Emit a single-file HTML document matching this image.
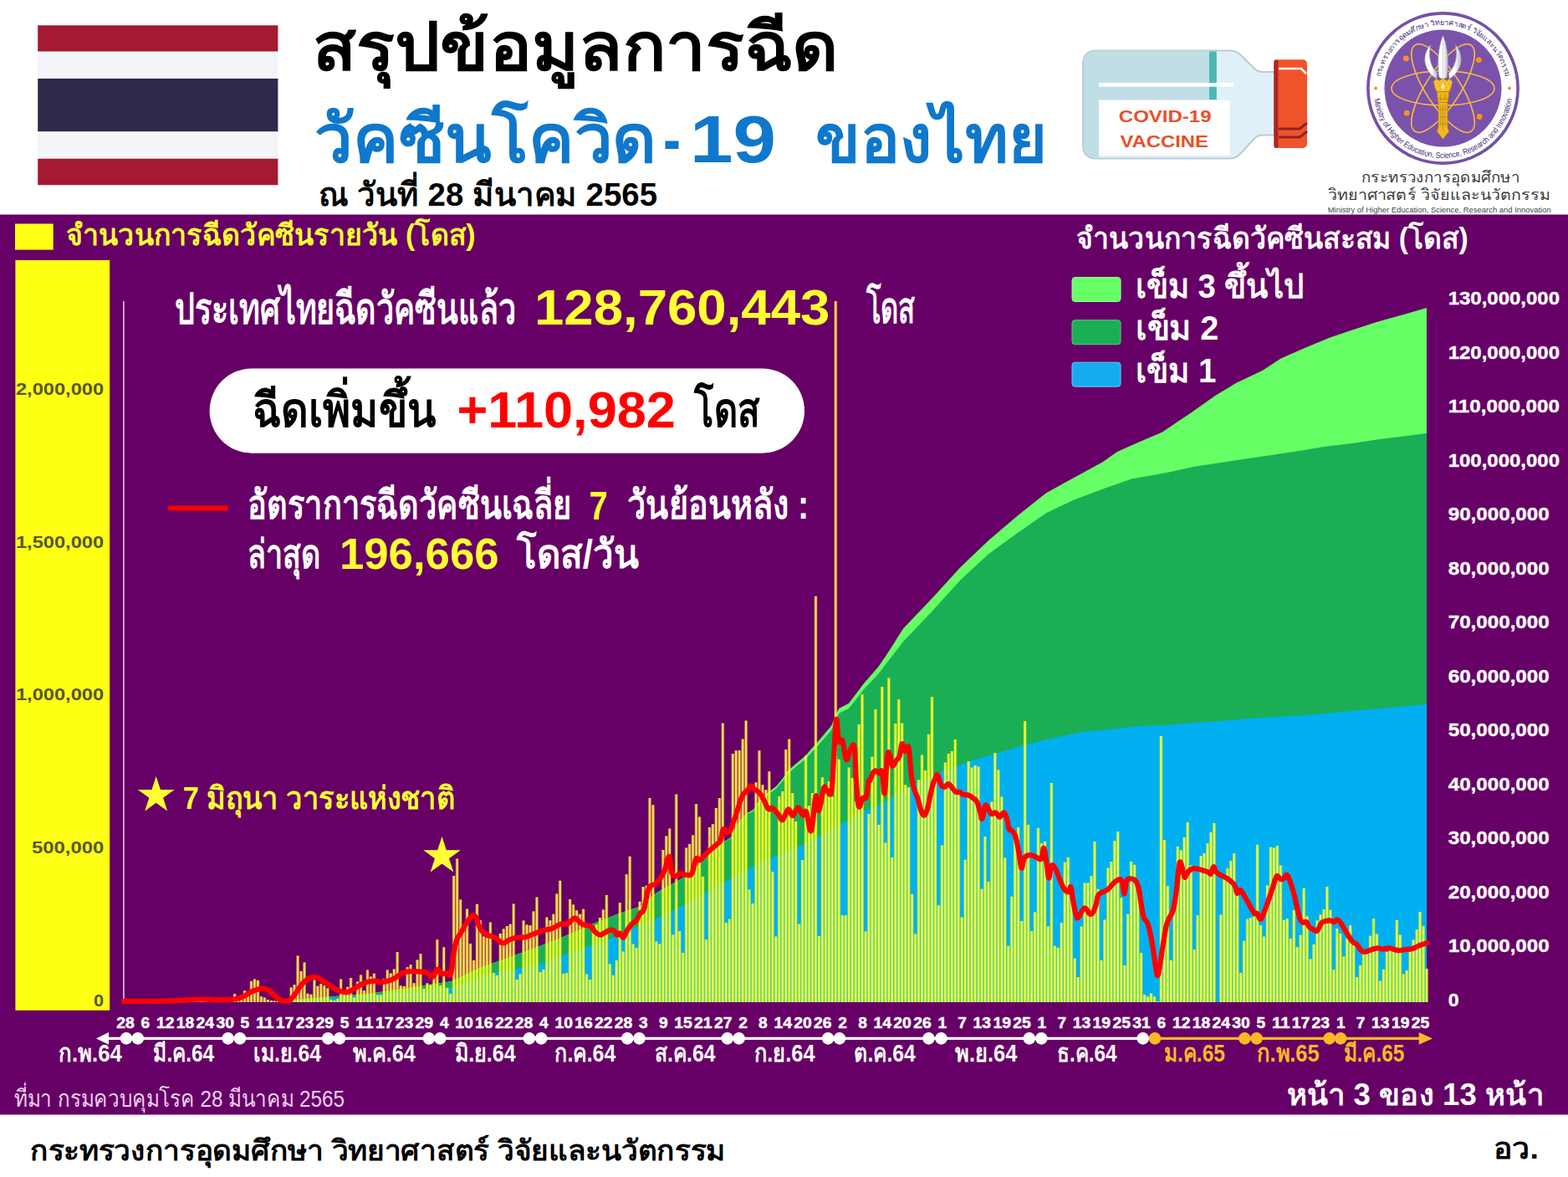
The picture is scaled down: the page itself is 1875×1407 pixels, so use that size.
<!DOCTYPE html>
<html lang="th"><head><meta charset="utf-8"><title>สรุปข้อมูลการฉีดวัคซีนโควิด-19 ของไทย</title>
<style>
html,body{margin:0;padding:0;background:#fff;}
body{width:1875px;height:1407px;overflow:hidden;position:relative;font-family:"Liberation Sans",sans-serif;}
svg{position:absolute;left:0;top:0;display:block}
.t{position:absolute;left:0;top:0;width:1875px;height:1407px;overflow:hidden;color:transparent;}
.t span{position:absolute;white-space:nowrap;line-height:1;overflow:hidden;color:transparent}
</style></head><body>
<svg width="1875" height="1407" viewBox="0 0 1875 1407" font-family="Liberation Sans, sans-serif">
<rect width="1875" height="1407" fill="#fff"/>
<rect x="0" y="256.5" width="1875" height="1076.0" fill="#660066"/>
<rect x="45.2" y="30.3" width="287.2" height="31.4" fill="#A51931"/>
<rect x="45.2" y="61.7" width="287.2" height="32.2" fill="#F4F5F8"/>
<rect x="45.2" y="93.9" width="287.2" height="63.5" fill="#2D2A4A"/>
<rect x="45.2" y="157.4" width="287.2" height="32.3" fill="#F4F5F8"/>
<rect x="45.2" y="189.7" width="287.2" height="31.5" fill="#A51931"/>
<text x="373.6" y="84.4" font-size="80" font-weight="bold" fill="#000" textLength="629" lengthAdjust="spacingAndGlyphs">สรุปข้อมูลการฉีด</text>
<text x="376.4" y="194.4" font-size="80" font-weight="bold" fill="#0F78CC" textLength="409" lengthAdjust="spacingAndGlyphs">วัคซีนโควิด</text>
<text x="793" y="194.4" font-size="80" font-weight="bold" fill="#0F78CC" textLength="21" lengthAdjust="spacingAndGlyphs">-</text>
<text x="825" y="194.4" font-size="80" font-weight="bold" fill="#0F78CC" textLength="103" lengthAdjust="spacingAndGlyphs">19</text>
<text x="974.9" y="194.4" font-size="80" font-weight="bold" fill="#0F78CC" textLength="277" lengthAdjust="spacingAndGlyphs">ของไทย</text>
<text x="381" y="246.3" font-size="39" font-weight="bold" fill="#000" textLength="405" lengthAdjust="spacingAndGlyphs">ณ วันที่ 28 มีนาคม 2565</text>
<g>
<path d="M1311 60.5H1470Q1478 60.5 1484 66L1500 82Q1504 86 1510 86H1524V161.5H1510Q1504 161.5 1500 165.5L1484 183Q1478 189.5 1470 189.5H1311Q1295 189.5 1295 173V77Q1295 60.5 1311 60.5Z" fill="#E0F0F9" stroke="#B9CDD6" stroke-width="2"/>
<path d="M1311 61.5H1446V119H1314V188.5H1311Q1296 188.5 1296 173V77Q1296 61.5 1311 61.5Z" fill="#BFDEE6"/>
<rect x="1446" y="61.5" width="8.8" height="57.5" fill="#4DB8B0"/>
<rect x="1314" y="99" width="161" height="4.7" fill="#fff"/>
<rect x="1314" y="120" width="156.6" height="66" fill="#fff"/>
<rect x="1523.4" y="71.3" width="39.6" height="105.7" rx="5" fill="#F0532A"/>
<rect x="1523.4" y="71.3" width="5" height="105.7" rx="2.5" fill="#A8262A"/>
<path d="M1529 82H1556L1562 88" fill="none" stroke="#fff" stroke-width="2.5"/>
<path d="M1529 154H1554L1563 147M1529 164H1554L1563 157" fill="none" stroke="#8E2328" stroke-width="3"/>
<text x="1393.2" y="145.8" font-size="20.2" font-weight="bold" fill="#E8502A" text-anchor="middle" textLength="110.8" lengthAdjust="spacingAndGlyphs">COVID-19</text>
<text x="1392.2" y="176.4" font-size="20.8" font-weight="bold" fill="#E8502A" text-anchor="middle" textLength="105.5" lengthAdjust="spacingAndGlyphs">VACCINE</text>
</g>
<circle cx="1725.5" cy="105.5" r="89.6" fill="#fff" stroke="#7650A8" stroke-width="3.6"/>
<circle cx="1725.5" cy="105.5" r="70" fill="#7B52AB"/>
<ellipse cx="1725.5" cy="105.5" rx="61.5" ry="20.6" fill="none" stroke="#F3B544" stroke-width="1.7" transform="rotate(0 1725.5 105.5)"/>
<ellipse cx="1725.5" cy="105.5" rx="61.5" ry="20.6" fill="none" stroke="#F3B544" stroke-width="1.7" transform="rotate(57 1725.5 105.5)"/>
<ellipse cx="1725.5" cy="105.5" rx="61.5" ry="20.6" fill="none" stroke="#F3B544" stroke-width="1.7" transform="rotate(-57 1725.5 105.5)"/>
<circle cx="1681.5" cy="69.9" r="3.4" fill="#F7931E"/>
<circle cx="1768.3" cy="71.6" r="3.4" fill="#F7931E"/>
<circle cx="1682.3" cy="135.2" r="3.4" fill="#F7931E"/>
<circle cx="1769.2" cy="139.5" r="3.4" fill="#F7931E"/>
<circle cx="1645" cy="105.5" r="2" fill="#E8973A"/>
<circle cx="1805" cy="105.5" r="2" fill="#E8973A"/>
<g stroke-linejoin="round">
<defs><linearGradient id="bl" x1="0" x2="1"><stop offset="0" stop-color="#F7F7FA"/><stop offset="0.5" stop-color="#FFFFFF"/><stop offset="1" stop-color="#B9B9C9"/></linearGradient></defs>
<path d="M1710.7 53.5C1701.5 64 1701 78 1712 90L1717.8 94.5L1719 88C1709.5 78 1708 66 1710.7 53.5Z" fill="url(#bl)" stroke="#8F8FA3" stroke-width="0.7"/>
<path d="M1740.3 53.5C1749.5 64 1750 78 1739 90L1733.2 94.5L1732 88C1741.5 78 1743 66 1740.3 53.5Z" fill="url(#bl)" stroke="#8F8FA3" stroke-width="0.7"/>
<path d="M1725.5 42.2C1719 58 1718.8 76 1720.6 92L1725.5 95.5L1730.4 92C1732.2 76 1732 58 1725.5 42.2Z" fill="url(#bl)" stroke="#8F8FA3" stroke-width="0.7"/>
<path d="M1725.5 47V93" stroke="#C9C9D6" stroke-width="0.8" fill="none"/>
<path d="M1714.2 97.5L1717.5 94L1721 96.5L1725.5 93.5L1730 96.5L1733.5 94L1736.8 97.5L1735.5 104L1733 109.5H1718L1715.500 104Z" fill="#F5C02A" stroke="#B57F0A" stroke-width="0.7"/>
<path d="M1718.3 109.500H1732.700L1731.500 122.500H1719.500Z" fill="#EDB21C" stroke="#B57F0A" stroke-width="0.7"/>
<path d="M1720 122.500H1731V152L1732.800 157.500L1729.500 161L1725.500 166.500L1721.500 161L1718.200 157.500L1720 152Z" fill="#F2B822" stroke="#B57F0A" stroke-width="0.7"/>
<path d="M1725.500 97L1729 104L1725.500 108.500L1722 104Z" fill="#FCE38F" stroke="#C98A0C" stroke-width="0.5"/>
<path d="M1722.700 113V120M1728.300 113V120M1723 125V151M1728 125V151M1725.500 125V156M1719 118H1732M1719.800 131H1731.200M1719.800 140H1731.200M1719.800 148H1731.200" stroke="#B57F0A" stroke-width="0.7" fill="none"/>
</g>
<defs><path id="arcb" d="M1642.0 105.5 A83.5 83.5 0 0 0 1809.0 105.5"/></defs>
<text font-size="9.8" fill="#4B2A7A"><textPath href="#arcb" startOffset="50%" text-anchor="middle" textLength="236" lengthAdjust="spacingAndGlyphs">Ministry of Higher Education, Science, Research and Innovation</textPath></text>
<defs><path id="arct" d="M1650.0 105.5 A75.5 75.5 0 0 1 1801.0 105.5"/></defs>
<text font-size="9" fill="#4B2A7A"><textPath href="#arct" startOffset="50%" text-anchor="middle" textLength="210" lengthAdjust="spacingAndGlyphs">กระทรวงการอุดมศึกษา วิทยาศาสตร์ วิจัยและนวัตกรรม</textPath></text>
<text x="1628" y="217.5" font-size="18" fill="#3C3C3C" textLength="189" lengthAdjust="spacingAndGlyphs">กระทรวงการอุดมศึกษา</text>
<text x="1587.7" y="239.3" font-size="18" fill="#3C3C3C" textLength="266" lengthAdjust="spacingAndGlyphs">วิทยาศาสตร์ วิจัยและนวัตกรรม</text>
<text x="1587.7" y="254" font-size="9.4" fill="#444" textLength="267" lengthAdjust="spacingAndGlyphs">Ministry of Higher Education, Science, Research and Innovation</text>
<rect x="18" y="267.5" width="45.7" height="31.1" fill="#FFFF14"/>
<rect x="18.4" y="311" width="112.8" height="896.8" fill="#FFFF14"/>
<rect x="147.1" y="360" width="1.6" height="837.5" fill="#EDBDED"/>
<polygon fill="#66FF66" points="340.0,1198.0 340.0,1196.0 400.0,1191.0 440.0,1188.0 473.0,1183.0 507.0,1178.0 540.0,1173.0 573.0,1157.0 607.0,1145.0 640.0,1133.0 673.0,1120.0 707.0,1105.0 740.0,1092.0 767.0,1083.0 773.3,1076.3 787.0,1066.0 800.6,1058.4 814.3,1050.7 829.7,1040.5 838.4,1030.7 851.2,1019.6 864.8,1006.8 874.2,1000.8 881.9,984.6 892.2,972.7 901.5,967.5 905.8,959.9 919.5,946.2 928.0,940.2 936.5,930.0 942.0,921.5 963.0,903.5 979.0,885.6 994.0,867.7 1001.0,851.0 1003.5,846.7 1015.0,840.8 1033.0,817.0 1050.0,797.5 1060.0,783.0 1080.0,751.6 1114.1,715.8 1148.3,678.2 1182.4,645.8 1216.5,616.8 1250.7,589.5 1284.8,570.7 1319.0,551.9 1336.0,540.0 1363.0,528.0 1390.0,516.4 1424.1,493.4 1453.1,472.9 1478.8,457.5 1509.5,443.0 1531.7,428.5 1560.7,415.7 1589.7,403.8 1617.0,394.4 1646.0,385.0 1680.2,375.6 1706.0,367.9 1706.0,1198.0"/>
<polygon fill="#1AAF54" points="340.0,1198.0 340.0,1196.0 400.0,1191.0 440.0,1188.0 473.0,1183.0 507.0,1178.0 540.0,1173.0 573.0,1157.0 607.0,1145.0 640.0,1133.0 673.0,1120.0 707.0,1105.0 740.0,1092.0 767.0,1083.6 773.3,1076.9 787.0,1066.6 800.6,1059.0 814.3,1051.3 829.7,1041.1 838.4,1031.3 851.2,1020.2 864.8,1007.4 874.2,1001.6 881.9,985.6 892.2,974.1 901.5,969.3 905.8,961.8 919.5,948.7 928.0,943.0 936.5,933.1 942.0,924.8 963.0,907.6 979.0,890.3 994.0,873.0 1001.0,857.0 1003.5,852.5 1015.0,847.0 1033.0,824.0 1050.0,806.0 1060.0,793.0 1080.0,767.0 1114.1,731.2 1148.3,693.6 1182.4,662.0 1216.5,637.3 1250.7,613.4 1284.8,597.2 1319.0,584.4 1353.1,572.4 1387.2,566.5 1400.0,563.9 1427.0,558.0 1460.0,553.0 1493.0,548.0 1527.0,543.0 1560.0,538.0 1583.0,534.0 1617.0,530.0 1650.0,525.0 1683.0,521.0 1706.0,518.0 1706.0,1198.0"/>
<polygon fill="#00B0F0" points="340.0,1198.0 340.0,1196.5 400.0,1193.0 440.0,1190.0 473.0,1186.0 507.0,1183.0 540.0,1180.0 573.0,1168.0 594.0,1162.0 620.0,1158.0 649.0,1151.0 676.0,1141.0 705.0,1131.0 734.0,1120.0 760.0,1109.0 787.0,1097.0 814.0,1084.0 843.0,1067.0 872.0,1051.6 900.0,1036.0 926.0,1024.0 955.0,1012.0 960.0,1010.0 993.0,992.0 1027.0,973.0 1060.0,957.0 1093.0,937.0 1127.0,922.0 1160.0,910.0 1193.0,900.0 1227.0,890.0 1260.0,882.0 1293.0,875.0 1327.0,872.0 1360.0,868.0 1393.0,867.0 1427.0,864.0 1460.0,862.0 1493.0,859.0 1527.0,857.0 1560.0,855.0 1583.0,853.0 1650.0,847.0 1706.0,842.0 1706.0,1198.0"/>
<clipPath id="ca"><polygon points="340.0,1198.0 340.0,1196.0 400.0,1191.0 440.0,1188.0 473.0,1183.0 507.0,1178.0 540.0,1173.0 573.0,1157.0 607.0,1145.0 640.0,1133.0 673.0,1120.0 707.0,1105.0 740.0,1092.0 767.0,1083.0 773.3,1076.3 787.0,1066.0 800.6,1058.4 814.3,1050.7 829.7,1040.5 838.4,1030.7 851.2,1019.6 864.8,1006.8 874.2,1000.8 881.9,984.6 892.2,972.7 901.5,967.5 905.8,959.9 919.5,946.2 928.0,940.2 936.5,930.0 942.0,921.5 963.0,903.5 979.0,885.6 994.0,867.7 1001.0,851.0 1003.5,846.7 1015.0,840.8 1033.0,817.0 1050.0,797.5 1060.0,783.0 1080.0,751.6 1114.1,715.8 1148.3,678.2 1182.4,645.8 1216.5,616.8 1250.7,589.5 1284.8,570.7 1319.0,551.9 1336.0,540.0 1363.0,528.0 1390.0,516.4 1424.1,493.4 1453.1,472.9 1478.8,457.5 1509.5,443.0 1531.7,428.5 1560.7,415.7 1589.7,403.8 1617.0,394.4 1646.0,385.0 1680.2,375.6 1706.0,367.9 1708.0,367.9 1708.0,1198.0"/></clipPath>
<clipPath id="co"><path clip-rule="evenodd" d="M0 300H1875V1210H0ZM340.0 1198.0L340.0 1196.0L400.0 1191.0L440.0 1188.0L473.0 1183.0L507.0 1178.0L540.0 1173.0L573.0 1157.0L607.0 1145.0L640.0 1133.0L673.0 1120.0L707.0 1105.0L740.0 1092.0L767.0 1083.0L773.3 1076.3L787.0 1066.0L800.6 1058.4L814.3 1050.7L829.7 1040.5L838.4 1030.7L851.2 1019.6L864.8 1006.8L874.2 1000.8L881.9 984.6L892.2 972.7L901.5 967.5L905.8 959.9L919.5 946.2L928.0 940.2L936.5 930.0L942.0 921.5L963.0 903.5L979.0 885.6L994.0 867.7L1001.0 851.0L1003.5 846.7L1015.0 840.8L1033.0 817.0L1050.0 797.5L1060.0 783.0L1080.0 751.6L1114.1 715.8L1148.3 678.2L1182.4 645.8L1216.5 616.8L1250.7 589.5L1284.8 570.7L1319.0 551.9L1336.0 540.0L1363.0 528.0L1390.0 516.4L1424.1 493.4L1453.1 472.9L1478.8 457.5L1509.5 443.0L1531.7 428.5L1560.7 415.7L1589.7 403.8L1617.0 394.4L1646.0 385.0L1680.2 375.6L1706.0 367.9L1708.0 367.9L1708.0 1198.0Z"/></clipPath>
<g clip-path="url(#co)"><path fill="#FFD84A" fill-opacity="0.35" d="M159.53 1198.0v-0.5h3.97v0.5zM163.50 1198.0v-0.8h3.97v0.8zM167.47 1198.0v-1.0h3.97v1.0zM171.44 1198.0v-1.0h3.97v1.0zM175.41 1198.0v-1.0h3.97v1.0zM179.38 1198.0v-1.0h3.97v1.0zM183.35 1198.0v-1.2h3.97v1.2zM187.32 1198.0v-1.5h3.97v1.5zM191.29 1198.0v-1.5h3.97v1.5zM195.26 1198.0v-1.5h3.97v1.5zM199.23 1198.0v-1.5h3.97v1.5zM203.20 1198.0v-1.5h3.97v1.5zM207.17 1198.0v-1.8h3.97v1.8zM211.14 1198.0v-2.0h3.97v2.0zM215.11 1198.0v-2.0h3.97v2.0zM219.08 1198.0v-2.0h3.97v2.0zM223.05 1198.0v-2.0h3.97v2.0zM227.02 1198.0v-2.0h3.97v2.0zM231.00 1198.0v-2.2h3.97v2.2zM234.97 1198.0v-2.5h3.97v2.5zM238.94 1198.0v-2.5h3.97v2.5zM242.91 1198.0v-2.5h3.97v2.5zM246.88 1198.0v-3.0h3.97v3.0zM250.85 1198.0v-3.0h3.97v3.0zM254.82 1198.0v-3.0h3.97v3.0zM258.79 1198.0v-2.5h3.97v2.5zM262.76 1198.0v-3.0h3.97v3.0zM266.73 1198.0v-3.0h3.97v3.0zM270.70 1198.0v-3.5h3.97v3.5zM274.67 1198.0v-3.0h3.97v3.0zM278.64 1198.0v-10.0h3.97v10.0zM282.61 1198.0v-4.0h3.97v4.0zM286.58 1198.0v-3.0h3.97v3.0zM290.55 1198.0v-13.7h3.97v13.7zM294.52 1198.0v-7.0h3.97v7.0zM298.49 1198.0v-25.0h3.97v25.0zM302.46 1198.0v-27.6h3.97v27.6zM306.43 1198.0v-26.0h3.97v26.0zM310.41 1198.0v-6.7h3.97v6.7zM314.38 1198.0v-5.5h3.97v5.5zM318.35 1198.0v-3.0h3.97v3.0zM322.32 1198.0v-2.0h3.97v2.0zM326.29 1198.0v-1.5h3.97v1.5zM330.26 1198.0v-1.5h3.97v1.5zM334.23 1198.0v-2.0h3.97v2.0zM338.20 1198.0v-3.0h3.97v3.0zM342.17 1198.0v-3.0h3.97v3.0zM346.14 1198.0v-17.5h3.97v17.5zM350.11 1198.0v-20.8h3.97v20.8zM354.08 1198.0v-55.6h3.97v55.6zM358.05 1198.0v-36.9h3.97v36.9zM362.02 1198.0v-47.6h3.97v47.6zM365.99 1198.0v-10.3h3.97v10.3zM369.96 1198.0v-9.3h3.97v9.3zM373.93 1198.0v-26.4h3.97v26.4zM377.90 1198.0v-19.3h3.97v19.3zM381.87 1198.0v-22.0h3.97v22.0zM385.84 1198.0v-19.7h3.97v19.7zM389.82 1198.0v-16.7h3.97v16.7zM393.79 1198.0v-3.0h3.97v3.0zM397.76 1198.0v-2.0h3.97v2.0zM401.73 1198.0v-4.0h3.97v4.0zM405.70 1198.0v-27.6h3.97v27.6zM409.67 1198.0v-10.8h3.97v10.8zM413.64 1198.0v-18.2h3.97v18.2zM417.61 1198.0v-29.0h3.97v29.0zM421.58 1198.0v-5.5h3.97v5.5zM425.55 1198.0v-24.6h3.97v24.6zM429.52 1198.0v-32.4h3.97v32.4zM433.49 1198.0v-13.7h3.97v13.7zM437.46 1198.0v-38.4h3.97v38.4zM441.43 1198.0v-30.6h3.97v30.6zM445.40 1198.0v-34.3h3.97v34.3zM449.37 1198.0v-8.5h3.97v8.5zM453.34 1198.0v-8.5h3.97v8.5zM457.31 1198.0v-28.0h3.97v28.0zM461.28 1198.0v-38.4h3.97v38.4zM465.25 1198.0v-34.6h3.97v34.6zM469.23 1198.0v-39.6h3.97v39.6zM473.20 1198.0v-60.0h3.97v60.0zM477.17 1198.0v-19.7h3.97v19.7zM481.14 1198.0v-19.0h3.97v19.0zM485.11 1198.0v-41.7h3.97v41.7zM489.08 1198.0v-44.8h3.97v44.8zM493.05 1198.0v-22.7h3.97v22.7zM497.02 1198.0v-50.6h3.97v50.6zM500.99 1198.0v-57.8h3.97v57.8zM504.96 1198.0v-16.0h3.97v16.0zM508.93 1198.0v-22.7h3.97v22.7zM512.90 1198.0v-20.5h3.97v20.5zM516.87 1198.0v-28.8h3.97v28.8zM520.84 1198.0v-74.7h3.97v74.7zM524.81 1198.0v-20.0h3.97v20.0zM528.78 1198.0v-65.7h3.97v65.7zM532.75 1198.0v-17.0h3.97v17.0zM536.72 1198.0v-10.0h3.97v10.0zM540.69 1198.0v-151.0h3.97v151.0zM544.66 1198.0v-171.5h3.97v171.5zM548.64 1198.0v-122.5h3.97v122.5zM552.61 1198.0v-89.0h3.97v89.0zM556.58 1198.0v-111.6h3.97v111.6zM560.55 1198.0v-70.0h3.97v70.0zM564.52 1198.0v-50.0h3.97v50.0zM568.49 1198.0v-117.2h3.97v117.2zM572.46 1198.0v-97.8h3.97v97.8zM576.43 1198.0v-78.4h3.97v78.4zM580.40 1198.0v-76.9h3.97v76.9zM584.37 1198.0v-95.6h3.97v95.6zM588.34 1198.0v-35.0h3.97v35.0zM592.31 1198.0v-32.0h3.97v32.0zM596.28 1198.0v-82.0h3.97v82.0zM600.25 1198.0v-87.4h3.97v87.4zM604.22 1198.0v-91.0h3.97v91.0zM608.19 1198.0v-93.3h3.97v93.3zM612.16 1198.0v-117.5h3.97v117.5zM616.13 1198.0v-27.0h3.97v27.0zM620.10 1198.0v-33.6h3.97v33.6zM624.07 1198.0v-97.5h3.97v97.5zM628.05 1198.0v-92.6h3.97v92.6zM632.02 1198.0v-91.8h3.97v91.8zM635.99 1198.0v-108.6h3.97v108.6zM639.96 1198.0v-125.4h3.97v125.4zM643.93 1198.0v-36.0h3.97v36.0zM647.90 1198.0v-39.0h3.97v39.0zM651.87 1198.0v-101.6h3.97v101.6zM655.84 1198.0v-97.8h3.97v97.8zM659.81 1198.0v-105.3h3.97v105.3zM663.78 1198.0v-129.5h3.97v129.5zM667.75 1198.0v-145.3h3.97v145.3zM671.72 1198.0v-34.0h3.97v34.0zM675.69 1198.0v-35.0h3.97v35.0zM679.66 1198.0v-122.9h3.97v122.9zM683.63 1198.0v-116.5h3.97v116.5zM687.60 1198.0v-109.8h3.97v109.8zM691.57 1198.0v-105.3h3.97v105.3zM695.54 1198.0v-111.3h3.97v111.3zM699.51 1198.0v-33.6h3.97v33.6zM703.48 1198.0v-27.0h3.97v27.0zM707.46 1198.0v-89.0h3.97v89.0zM711.43 1198.0v-93.0h3.97v93.0zM715.40 1198.0v-101.0h3.97v101.0zM719.37 1198.0v-110.5h3.97v110.5zM723.34 1198.0v-128.0h3.97v128.0zM727.31 1198.0v-45.5h3.97v45.5zM731.28 1198.0v-32.0h3.97v32.0zM735.25 1198.0v-50.0h3.97v50.0zM739.22 1198.0v-118.7h3.97v118.7zM743.19 1198.0v-60.5h3.97v60.5zM747.16 1198.0v-152.8h3.97v152.8zM751.13 1198.0v-174.3h3.97v174.3zM755.10 1198.0v-69.4h3.97v69.4zM759.07 1198.0v-65.0h3.97v65.0zM763.04 1198.0v-120.2h3.97v120.2zM767.01 1198.0v-137.8h3.97v137.8zM770.98 1198.0v-139.3h3.97v139.3zM774.95 1198.0v-244.0h3.97v244.0zM778.92 1198.0v-235.8h3.97v235.8zM782.89 1198.0v-72.4h3.97v72.4zM786.87 1198.0v-69.4h3.97v69.4zM790.84 1198.0v-182.0h3.97v182.0zM794.81 1198.0v-198.6h3.97v198.6zM798.78 1198.0v-207.4h3.97v207.4zM802.75 1198.0v-80.6h3.97v80.6zM806.72 1198.0v-248.5h3.97v248.5zM810.69 1198.0v-85.0h3.97v85.0zM814.66 1198.0v-59.0h3.97v59.0zM818.63 1198.0v-184.4h3.97v184.4zM822.60 1198.0v-189.0h3.97v189.0zM826.57 1198.0v-199.4h3.97v199.4zM830.54 1198.0v-236.9h3.97v236.9zM834.51 1198.0v-221.6h3.97v221.6zM838.48 1198.0v-150.0h3.97v150.0zM842.45 1198.0v-74.7h3.97v74.7zM846.42 1198.0v-208.9h3.97v208.9zM850.39 1198.0v-212.7h3.97v212.7zM854.36 1198.0v-232.0h3.97v232.0zM858.33 1198.0v-244.0h3.97v244.0zM862.30 1198.0v-333.6h3.97v333.6zM866.28 1198.0v-94.8h3.97v94.8zM870.25 1198.0v-99.3h3.97v99.3zM874.22 1198.0v-297.0h3.97v297.0zM878.19 1198.0v-300.8h3.97v300.8zM882.16 1198.0v-301.0h3.97v301.0zM886.13 1198.0v-314.5h3.97v314.5zM890.10 1198.0v-336.6h3.97v336.6zM894.07 1198.0v-134.4h3.97v134.4zM898.04 1198.0v-118.0h3.97v118.0zM902.01 1198.0v-262.7h3.97v262.7zM905.98 1198.0v-300.8h3.97v300.8zM909.95 1198.0v-259.7h3.97v259.7zM913.92 1198.0v-253.7h3.97v253.7zM917.89 1198.0v-275.7h3.97v275.7zM921.86 1198.0v-156.0h3.97v156.0zM925.83 1198.0v-78.4h3.97v78.4zM929.80 1198.0v-246.0h3.97v246.0zM933.77 1198.0v-252.0h3.97v252.0zM937.74 1198.0v-302.0h3.97v302.0zM941.71 1198.0v-314.5h3.97v314.5zM945.69 1198.0v-250.0h3.97v250.0zM949.66 1198.0v-216.0h3.97v216.0zM953.63 1198.0v-93.3h3.97v93.3zM957.60 1198.0v-170.0h3.97v170.0zM961.57 1198.0v-294.8h3.97v294.8zM965.54 1198.0v-235.0h3.97v235.0zM969.51 1198.0v-250.0h3.97v250.0zM973.48 1198.0v-485.3h3.97v485.3zM977.45 1198.0v-79.0h3.97v79.0zM981.42 1198.0v-268.7h3.97v268.7zM985.39 1198.0v-257.5h3.97v257.5zM989.36 1198.0v-264.0h3.97v264.0zM993.33 1198.0v-245.5h3.97v245.5zM997.30 1198.0v-838.0h3.97v838.0zM1001.27 1198.0v-290.3h3.97v290.3zM1005.24 1198.0v-103.8h3.97v103.8zM1009.21 1198.0v-103.8h3.97v103.8zM1013.18 1198.0v-280.6h3.97v280.6zM1017.15 1198.0v-268.0h3.97v268.0zM1021.12 1198.0v-240.0h3.97v240.0zM1025.10 1198.0v-332.0h3.97v332.0zM1029.07 1198.0v-368.0h3.97v368.0zM1033.04 1198.0v-84.4h3.97v84.4zM1037.01 1198.0v-225.0h3.97v225.0zM1040.98 1198.0v-293.3h3.97v293.3zM1044.95 1198.0v-350.0h3.97v350.0zM1048.92 1198.0v-211.9h3.97v211.9zM1052.89 1198.0v-377.0h3.97v377.0zM1056.86 1198.0v-190.4h3.97v190.4zM1060.83 1198.0v-387.4h3.97v387.4zM1064.80 1198.0v-173.0h3.97v173.0zM1068.77 1198.0v-332.9h3.97v332.9zM1072.74 1198.0v-362.0h3.97v362.0zM1076.71 1198.0v-333.6h3.97v333.6zM1080.68 1198.0v-259.7h3.97v259.7zM1084.65 1198.0v-256.7h3.97v256.7zM1088.62 1198.0v-129.2h3.97v129.2zM1092.59 1198.0v-81.4h3.97v81.4zM1096.56 1198.0v-265.7h3.97v265.7zM1100.53 1198.0v-295.5h3.97v295.5zM1104.51 1198.0v-276.9h3.97v276.9zM1108.48 1198.0v-320.2h3.97v320.2zM1112.45 1198.0v-365.0h3.97v365.0zM1116.42 1198.0v-270.0h3.97v270.0zM1120.39 1198.0v-115.7h3.97v115.7zM1124.36 1198.0v-187.4h3.97v187.4zM1128.33 1198.0v-286.6h3.97v286.6zM1132.30 1198.0v-297.0h3.97v297.0zM1136.27 1198.0v-300.0h3.97v300.0zM1140.24 1198.0v-313.9h3.97v313.9zM1144.21 1198.0v-250.0h3.97v250.0zM1148.18 1198.0v-101.6h3.97v101.6zM1152.15 1198.0v-170.3h3.97v170.3zM1156.12 1198.0v-288.0h3.97v288.0zM1160.09 1198.0v-280.6h3.97v280.6zM1164.06 1198.0v-282.9h3.97v282.9zM1168.03 1198.0v-281.4h3.97v281.4zM1172.00 1198.0v-135.2h3.97v135.2zM1175.97 1198.0v-197.9h3.97v197.9zM1179.94 1198.0v-144.0h3.97v144.0zM1183.92 1198.0v-239.5h3.97v239.5zM1187.89 1198.0v-298.0h3.97v298.0zM1191.86 1198.0v-277.6h3.97v277.6zM1195.83 1198.0v-245.5h3.97v245.5zM1199.80 1198.0v-172.5h3.97v172.5zM1203.77 1198.0v-67.2h3.97v67.2zM1207.74 1198.0v-126.2h3.97v126.2zM1211.71 1198.0v-200.7h3.97v200.7zM1215.68 1198.0v-209.0h3.97v209.0zM1219.65 1198.0v-97.0h3.97v97.0zM1223.62 1198.0v-335.9h3.97v335.9zM1227.59 1198.0v-212.0h3.97v212.0zM1231.56 1198.0v-85.0h3.97v85.0zM1235.53 1198.0v-107.5h3.97v107.5zM1239.50 1198.0v-208.2h3.97v208.2zM1243.47 1198.0v-189.7h3.97v189.7zM1247.44 1198.0v-191.9h3.97v191.9zM1251.41 1198.0v-90.4h3.97v90.4zM1255.38 1198.0v-262.0h3.97v262.0zM1259.35 1198.0v-67.2h3.97v67.2zM1263.33 1198.0v-65.0h3.97v65.0zM1267.30 1198.0v-94.8h3.97v94.8zM1271.27 1198.0v-167.3h3.97v167.3zM1275.24 1198.0v-173.2h3.97v173.2zM1279.21 1198.0v-138.0h3.97v138.0zM1283.18 1198.0v-52.3h3.97v52.3zM1287.15 1198.0v-29.9h3.97v29.9zM1291.12 1198.0v-90.4h3.97v90.4zM1295.09 1198.0v-142.6h3.97v142.6zM1299.06 1198.0v-142.6h3.97v142.6zM1303.03 1198.0v-150.8h3.97v150.8zM1307.00 1198.0v-191.9h3.97v191.9zM1310.97 1198.0v-135.2h3.97v135.2zM1314.94 1198.0v-50.0h3.97v50.0zM1318.91 1198.0v-98.6h3.97v98.6zM1322.88 1198.0v-160.5h3.97v160.5zM1326.85 1198.0v-168.0h3.97v168.0zM1330.82 1198.0v-192.7h3.97v192.7zM1334.79 1198.0v-203.9h3.97v203.9zM1338.76 1198.0v-124.7h3.97v124.7zM1342.74 1198.0v-44.0h3.97v44.0zM1346.71 1198.0v-105.3h3.97v105.3zM1350.68 1198.0v-168.0h3.97v168.0zM1354.65 1198.0v-164.3h3.97v164.3zM1358.62 1198.0v-142.6h3.97v142.6zM1362.59 1198.0v-59.0h3.97v59.0zM1366.56 1198.0v-9.0h3.97v9.0zM1370.53 1198.0v-6.7h3.97v6.7zM1374.50 1198.0v-10.5h3.97v10.5zM1378.47 1198.0v-6.7h3.97v6.7zM1382.44 1198.0v-1.0h3.97v1.0zM1386.41 1198.0v-318.0h3.97v318.0zM1390.38 1198.0v-194.1h3.97v194.1zM1394.35 1198.0v-138.9h3.97v138.9zM1398.32 1198.0v-50.0h3.97v50.0zM1402.29 1198.0v-124.7h3.97v124.7zM1406.26 1198.0v-185.9h3.97v185.9zM1410.23 1198.0v-181.5h3.97v181.5zM1414.20 1198.0v-197.1h3.97v197.1zM1418.17 1198.0v-215.0h3.97v215.0zM1422.15 1198.0v-163.5h3.97v163.5zM1426.12 1198.0v-62.7h3.97v62.7zM1430.09 1198.0v-103.8h3.97v103.8zM1434.06 1198.0v-174.7h3.97v174.7zM1438.03 1198.0v-177.7h3.97v177.7zM1442.00 1198.0v-189.7h3.97v189.7zM1445.97 1198.0v-203.1h3.97v203.1zM1449.94 1198.0v-214.0h3.97v214.0zM1457.88 1198.0v-104.5h3.97v104.5zM1461.85 1198.0v-148.6h3.97v148.6zM1465.82 1198.0v-159.8h3.97v159.8zM1469.79 1198.0v-168.8h3.97v168.8zM1473.76 1198.0v-177.7h3.97v177.7zM1477.73 1198.0v-130.7h3.97v130.7zM1481.70 1198.0v-35.0h3.97v35.0zM1485.67 1198.0v-73.2h3.97v73.2zM1489.64 1198.0v-99.3h3.97v99.3zM1493.61 1198.0v-100.8h3.97v100.8zM1497.58 1198.0v-103.8h3.97v103.8zM1501.56 1198.0v-188.2h3.97v188.2zM1505.53 1198.0v-91.8h3.97v91.8zM1509.50 1198.0v-78.4h3.97v78.4zM1513.47 1198.0v-139.6h3.97v139.6zM1517.44 1198.0v-185.2h3.97v185.2zM1521.41 1198.0v-184.4h3.97v184.4zM1525.38 1198.0v-186.7h3.97v186.7zM1529.35 1198.0v-163.5h3.97v163.5zM1533.32 1198.0v-98.2h3.97v98.2zM1537.29 1198.0v-99.8h3.97v99.8zM1541.26 1198.0v-76.0h3.97v76.0zM1545.23 1198.0v-110.0h3.97v110.0zM1549.20 1198.0v-65.7h3.97v65.7zM1553.17 1198.0v-80.2h3.97v80.2zM1557.14 1198.0v-136.3h3.97v136.3zM1561.11 1198.0v-102.7h3.97v102.7zM1565.08 1198.0v-51.5h3.97v51.5zM1569.05 1198.0v-69.0h3.97v69.0zM1573.02 1198.0v-97.5h3.97v97.5zM1576.99 1198.0v-104.4h3.97v104.4zM1580.97 1198.0v-111.0h3.97v111.0zM1584.94 1198.0v-138.0h3.97v138.0zM1588.91 1198.0v-110.3h3.97v110.3zM1592.88 1198.0v-38.7h3.97v38.7zM1596.85 1198.0v-88.0h3.97v88.0zM1600.82 1198.0v-82.1h3.97v82.1zM1604.79 1198.0v-54.6h3.97v54.6zM1608.76 1198.0v-76.3h3.97v76.3zM1612.73 1198.0v-92.1h3.97v92.1zM1616.70 1198.0v-68.0h3.97v68.0zM1620.67 1198.0v-29.9h3.97v29.9zM1624.64 1198.0v-44.0h3.97v44.0zM1628.61 1198.0v-58.7h3.97v58.7zM1632.58 1198.0v-57.5h3.97v57.5zM1636.55 1198.0v-79.2h3.97v79.2zM1640.52 1198.0v-99.7h3.97v99.7zM1644.49 1198.0v-81.5h3.97v81.5zM1648.46 1198.0v-25.2h3.97v25.2zM1652.43 1198.0v-39.3h3.97v39.3zM1656.40 1198.0v-59.8h3.97v59.8zM1660.38 1198.0v-63.4h3.97v63.4zM1664.35 1198.0v-64.5h3.97v64.5zM1668.32 1198.0v-98.0h3.97v98.0zM1672.29 1198.0v-80.4h3.97v80.4zM1676.26 1198.0v-33.4h3.97v33.4zM1680.23 1198.0v-38.1h3.97v38.1zM1684.20 1198.0v-61.0h3.97v61.0zM1688.17 1198.0v-74.5h3.97v74.5zM1692.14 1198.0v-86.8h3.97v86.8zM1696.11 1198.0v-107.9h3.97v107.9zM1700.08 1198.0v-90.9h3.97v90.9zM1704.05 1198.0v-39.9h3.97v39.9z"/><path fill="#FFE04A" d="M160.3 1198.0v-0.5h2.5v0.5zM164.2 1198.0v-0.8h2.5v0.8zM168.2 1198.0v-1.0h2.5v1.0zM172.2 1198.0v-1.0h2.5v1.0zM176.1 1198.0v-1.0h2.5v1.0zM180.1 1198.0v-1.0h2.5v1.0zM184.1 1198.0v-1.2h2.5v1.2zM188.1 1198.0v-1.5h2.5v1.5zM192.0 1198.0v-1.5h2.5v1.5zM196.0 1198.0v-1.5h2.5v1.5zM200.0 1198.0v-1.5h2.5v1.5zM203.9 1198.0v-1.5h2.5v1.5zM207.9 1198.0v-1.8h2.5v1.8zM211.9 1198.0v-2.0h2.5v2.0zM215.8 1198.0v-2.0h2.5v2.0zM219.8 1198.0v-2.0h2.5v2.0zM223.8 1198.0v-2.0h2.5v2.0zM227.8 1198.0v-2.0h2.5v2.0zM231.7 1198.0v-2.2h2.5v2.2zM235.7 1198.0v-2.5h2.5v2.5zM239.7 1198.0v-2.5h2.5v2.5zM243.6 1198.0v-2.5h2.5v2.5zM247.6 1198.0v-3.0h2.5v3.0zM251.6 1198.0v-3.0h2.5v3.0zM255.6 1198.0v-3.0h2.5v3.0zM259.5 1198.0v-2.5h2.5v2.5zM263.5 1198.0v-3.0h2.5v3.0zM267.5 1198.0v-3.0h2.5v3.0zM271.4 1198.0v-3.5h2.5v3.5zM275.4 1198.0v-3.0h2.5v3.0zM279.4 1198.0v-10.0h2.5v10.0zM283.3 1198.0v-4.0h2.5v4.0zM287.3 1198.0v-3.0h2.5v3.0zM291.3 1198.0v-13.7h2.5v13.7zM295.3 1198.0v-7.0h2.5v7.0zM299.2 1198.0v-25.0h2.5v25.0zM303.2 1198.0v-27.6h2.5v27.6zM307.2 1198.0v-26.0h2.5v26.0zM311.1 1198.0v-6.7h2.5v6.7zM315.1 1198.0v-5.5h2.5v5.5zM319.1 1198.0v-3.0h2.5v3.0zM323.1 1198.0v-2.0h2.5v2.0zM327.0 1198.0v-1.5h2.5v1.5zM331.0 1198.0v-1.5h2.5v1.5zM335.0 1198.0v-2.0h2.5v2.0zM338.9 1198.0v-3.0h2.5v3.0zM342.9 1198.0v-3.0h2.5v3.0zM346.9 1198.0v-17.5h2.5v17.5zM350.8 1198.0v-20.8h2.5v20.8zM354.8 1198.0v-55.6h2.5v55.6zM358.8 1198.0v-36.9h2.5v36.9zM362.8 1198.0v-47.6h2.5v47.6zM366.7 1198.0v-10.3h2.5v10.3zM370.7 1198.0v-9.3h2.5v9.3zM374.7 1198.0v-26.4h2.5v26.4zM378.6 1198.0v-19.3h2.5v19.3zM382.6 1198.0v-22.0h2.5v22.0zM386.6 1198.0v-19.7h2.5v19.7zM390.6 1198.0v-16.7h2.5v16.7zM394.5 1198.0v-3.0h2.5v3.0zM398.5 1198.0v-2.0h2.5v2.0zM402.5 1198.0v-4.0h2.5v4.0zM406.4 1198.0v-27.6h2.5v27.6zM410.4 1198.0v-10.8h2.5v10.8zM414.4 1198.0v-18.2h2.5v18.2zM418.3 1198.0v-29.0h2.5v29.0zM422.3 1198.0v-5.5h2.5v5.5zM426.3 1198.0v-24.6h2.5v24.6zM430.3 1198.0v-32.4h2.5v32.4zM434.2 1198.0v-13.7h2.5v13.7zM438.2 1198.0v-38.4h2.5v38.4zM442.2 1198.0v-30.6h2.5v30.6zM446.1 1198.0v-34.3h2.5v34.3zM450.1 1198.0v-8.5h2.5v8.5zM454.1 1198.0v-8.5h2.5v8.5zM458.0 1198.0v-28.0h2.5v28.0zM462.0 1198.0v-38.4h2.5v38.4zM466.0 1198.0v-34.6h2.5v34.6zM470.0 1198.0v-39.6h2.5v39.6zM473.9 1198.0v-60.0h2.5v60.0zM477.9 1198.0v-19.7h2.5v19.7zM481.9 1198.0v-19.0h2.5v19.0zM485.8 1198.0v-41.7h2.5v41.7zM489.8 1198.0v-44.8h2.5v44.8zM493.8 1198.0v-22.7h2.5v22.7zM497.8 1198.0v-50.6h2.5v50.6zM501.7 1198.0v-57.8h2.5v57.8zM505.7 1198.0v-16.0h2.5v16.0zM509.7 1198.0v-22.7h2.5v22.7zM513.6 1198.0v-20.5h2.5v20.5zM517.6 1198.0v-28.8h2.5v28.8zM521.6 1198.0v-74.7h2.5v74.7zM525.5 1198.0v-20.0h2.5v20.0zM529.5 1198.0v-65.7h2.5v65.7zM533.5 1198.0v-17.0h2.5v17.0zM537.5 1198.0v-10.0h2.5v10.0zM541.4 1198.0v-151.0h2.5v151.0zM545.4 1198.0v-171.5h2.5v171.5zM549.4 1198.0v-122.5h2.5v122.5zM553.3 1198.0v-89.0h2.5v89.0zM557.3 1198.0v-111.6h2.5v111.6zM561.3 1198.0v-70.0h2.5v70.0zM565.3 1198.0v-50.0h2.5v50.0zM569.2 1198.0v-117.2h2.5v117.2zM573.2 1198.0v-97.8h2.5v97.8zM577.2 1198.0v-78.4h2.5v78.4zM581.1 1198.0v-76.9h2.5v76.9zM585.1 1198.0v-95.6h2.5v95.6zM589.1 1198.0v-35.0h2.5v35.0zM593.0 1198.0v-32.0h2.5v32.0zM597.0 1198.0v-82.0h2.5v82.0zM601.0 1198.0v-87.4h2.5v87.4zM605.0 1198.0v-91.0h2.5v91.0zM608.9 1198.0v-93.3h2.5v93.3zM612.9 1198.0v-117.5h2.5v117.5zM616.9 1198.0v-27.0h2.5v27.0zM620.8 1198.0v-33.6h2.5v33.6zM624.8 1198.0v-97.5h2.5v97.5zM628.8 1198.0v-92.6h2.5v92.6zM632.8 1198.0v-91.8h2.5v91.8zM636.7 1198.0v-108.6h2.5v108.6zM640.7 1198.0v-125.4h2.5v125.4zM644.7 1198.0v-36.0h2.5v36.0zM648.6 1198.0v-39.0h2.5v39.0zM652.6 1198.0v-101.6h2.5v101.6zM656.6 1198.0v-97.8h2.5v97.8zM660.5 1198.0v-105.3h2.5v105.3zM664.5 1198.0v-129.5h2.5v129.5zM668.5 1198.0v-145.3h2.5v145.3zM672.5 1198.0v-34.0h2.5v34.0zM676.4 1198.0v-35.0h2.5v35.0zM680.4 1198.0v-122.9h2.5v122.9zM684.4 1198.0v-116.5h2.5v116.5zM688.3 1198.0v-109.8h2.5v109.8zM692.3 1198.0v-105.3h2.5v105.3zM696.3 1198.0v-111.3h2.5v111.3zM700.2 1198.0v-33.6h2.5v33.6zM704.2 1198.0v-27.0h2.5v27.0zM708.2 1198.0v-89.0h2.5v89.0zM712.2 1198.0v-93.0h2.5v93.0zM716.1 1198.0v-101.0h2.5v101.0zM720.1 1198.0v-110.5h2.5v110.5zM724.1 1198.0v-128.0h2.5v128.0zM728.0 1198.0v-45.5h2.5v45.5zM732.0 1198.0v-32.0h2.5v32.0zM736.0 1198.0v-50.0h2.5v50.0zM740.0 1198.0v-118.7h2.5v118.7zM743.9 1198.0v-60.5h2.5v60.5zM747.9 1198.0v-152.8h2.5v152.8zM751.9 1198.0v-174.3h2.5v174.3zM755.8 1198.0v-69.4h2.5v69.4zM759.8 1198.0v-65.0h2.5v65.0zM763.8 1198.0v-120.2h2.5v120.2zM767.7 1198.0v-137.8h2.5v137.8zM771.7 1198.0v-139.3h2.5v139.3zM775.7 1198.0v-244.0h2.5v244.0zM779.7 1198.0v-235.8h2.5v235.8zM783.6 1198.0v-72.4h2.5v72.4zM787.6 1198.0v-69.4h2.5v69.4zM791.6 1198.0v-182.0h2.5v182.0zM795.5 1198.0v-198.6h2.5v198.6zM799.5 1198.0v-207.4h2.5v207.4zM803.5 1198.0v-80.6h2.5v80.6zM807.5 1198.0v-248.5h2.5v248.5zM811.4 1198.0v-85.0h2.5v85.0zM815.4 1198.0v-59.0h2.5v59.0zM819.4 1198.0v-184.4h2.5v184.4zM823.3 1198.0v-189.0h2.5v189.0zM827.3 1198.0v-199.4h2.5v199.4zM831.3 1198.0v-236.9h2.5v236.9zM835.2 1198.0v-221.6h2.5v221.6zM839.2 1198.0v-150.0h2.5v150.0zM843.2 1198.0v-74.7h2.5v74.7zM847.2 1198.0v-208.9h2.5v208.9zM851.1 1198.0v-212.7h2.5v212.7zM855.1 1198.0v-232.0h2.5v232.0zM859.1 1198.0v-244.0h2.5v244.0zM863.0 1198.0v-333.6h2.5v333.6zM867.0 1198.0v-94.8h2.5v94.8zM871.0 1198.0v-99.3h2.5v99.3zM875.0 1198.0v-297.0h2.5v297.0zM878.9 1198.0v-300.8h2.5v300.8zM882.9 1198.0v-301.0h2.5v301.0zM886.9 1198.0v-314.5h2.5v314.5zM890.8 1198.0v-336.6h2.5v336.6zM894.8 1198.0v-134.4h2.5v134.4zM898.8 1198.0v-118.0h2.5v118.0zM902.7 1198.0v-262.7h2.5v262.7zM906.7 1198.0v-300.8h2.5v300.8zM910.7 1198.0v-259.7h2.5v259.7zM914.7 1198.0v-253.7h2.5v253.7zM918.6 1198.0v-275.7h2.5v275.7zM922.6 1198.0v-156.0h2.5v156.0zM926.6 1198.0v-78.4h2.5v78.4zM930.5 1198.0v-246.0h2.5v246.0zM934.5 1198.0v-252.0h2.5v252.0zM938.5 1198.0v-302.0h2.5v302.0zM942.5 1198.0v-314.5h2.5v314.5zM946.4 1198.0v-250.0h2.5v250.0zM950.4 1198.0v-216.0h2.5v216.0zM954.4 1198.0v-93.3h2.5v93.3zM958.3 1198.0v-170.0h2.5v170.0zM962.3 1198.0v-294.8h2.5v294.8zM966.3 1198.0v-235.0h2.5v235.0zM970.2 1198.0v-250.0h2.5v250.0zM974.2 1198.0v-485.3h2.5v485.3zM978.2 1198.0v-79.0h2.5v79.0zM982.2 1198.0v-268.7h2.5v268.7zM986.1 1198.0v-257.5h2.5v257.5zM990.1 1198.0v-264.0h2.5v264.0zM994.1 1198.0v-245.5h2.5v245.5zM998.0 1198.0v-838.0h2.5v838.0zM1002.0 1198.0v-290.3h2.5v290.3zM1006.0 1198.0v-103.8h2.5v103.8zM1009.9 1198.0v-103.8h2.5v103.8zM1013.9 1198.0v-280.6h2.5v280.6zM1017.9 1198.0v-268.0h2.5v268.0zM1021.9 1198.0v-240.0h2.5v240.0zM1025.8 1198.0v-332.0h2.5v332.0zM1029.8 1198.0v-368.0h2.5v368.0zM1033.8 1198.0v-84.4h2.5v84.4zM1037.7 1198.0v-225.0h2.5v225.0zM1041.7 1198.0v-293.3h2.5v293.3zM1045.7 1198.0v-350.0h2.5v350.0zM1049.7 1198.0v-211.9h2.5v211.9zM1053.6 1198.0v-377.0h2.5v377.0zM1057.6 1198.0v-190.4h2.5v190.4zM1061.6 1198.0v-387.4h2.5v387.4zM1065.5 1198.0v-173.0h2.5v173.0zM1069.5 1198.0v-332.9h2.5v332.9zM1073.5 1198.0v-362.0h2.5v362.0zM1077.4 1198.0v-333.6h2.5v333.6zM1081.4 1198.0v-259.7h2.5v259.7zM1085.4 1198.0v-256.7h2.5v256.7zM1089.4 1198.0v-129.2h2.5v129.2zM1093.3 1198.0v-81.4h2.5v81.4zM1097.3 1198.0v-265.7h2.5v265.7zM1101.3 1198.0v-295.5h2.5v295.5zM1105.2 1198.0v-276.9h2.5v276.9zM1109.2 1198.0v-320.2h2.5v320.2zM1113.2 1198.0v-365.0h2.5v365.0zM1117.2 1198.0v-270.0h2.5v270.0zM1121.1 1198.0v-115.7h2.5v115.7zM1125.1 1198.0v-187.4h2.5v187.4zM1129.1 1198.0v-286.6h2.5v286.6zM1133.0 1198.0v-297.0h2.5v297.0zM1137.0 1198.0v-300.0h2.5v300.0zM1141.0 1198.0v-313.9h2.5v313.9zM1144.9 1198.0v-250.0h2.5v250.0zM1148.9 1198.0v-101.6h2.5v101.6zM1152.9 1198.0v-170.3h2.5v170.3zM1156.9 1198.0v-288.0h2.5v288.0zM1160.8 1198.0v-280.6h2.5v280.6zM1164.8 1198.0v-282.9h2.5v282.9zM1168.8 1198.0v-281.4h2.5v281.4zM1172.7 1198.0v-135.2h2.5v135.2zM1176.7 1198.0v-197.9h2.5v197.9zM1180.7 1198.0v-144.0h2.5v144.0zM1184.7 1198.0v-239.5h2.5v239.5zM1188.6 1198.0v-298.0h2.5v298.0zM1192.6 1198.0v-277.6h2.5v277.6zM1196.6 1198.0v-245.5h2.5v245.5zM1200.5 1198.0v-172.5h2.5v172.5zM1204.5 1198.0v-67.2h2.5v67.2zM1208.5 1198.0v-126.2h2.5v126.2zM1212.4 1198.0v-200.7h2.5v200.7zM1216.4 1198.0v-209.0h2.5v209.0zM1220.4 1198.0v-97.0h2.5v97.0zM1224.4 1198.0v-335.9h2.5v335.9zM1228.3 1198.0v-212.0h2.5v212.0zM1232.3 1198.0v-85.0h2.5v85.0zM1236.3 1198.0v-107.5h2.5v107.5zM1240.2 1198.0v-208.2h2.5v208.2zM1244.2 1198.0v-189.7h2.5v189.7zM1248.2 1198.0v-191.9h2.5v191.9zM1252.1 1198.0v-90.4h2.5v90.4zM1256.1 1198.0v-262.0h2.5v262.0zM1260.1 1198.0v-67.2h2.5v67.2zM1264.1 1198.0v-65.0h2.5v65.0zM1268.0 1198.0v-94.8h2.5v94.8zM1272.0 1198.0v-167.3h2.5v167.3zM1276.0 1198.0v-173.2h2.5v173.2zM1279.9 1198.0v-138.0h2.5v138.0zM1283.9 1198.0v-52.3h2.5v52.3zM1287.9 1198.0v-29.9h2.5v29.9zM1291.9 1198.0v-90.4h2.5v90.4zM1295.8 1198.0v-142.6h2.5v142.6zM1299.8 1198.0v-142.6h2.5v142.6zM1303.8 1198.0v-150.8h2.5v150.8zM1307.7 1198.0v-191.9h2.5v191.9zM1311.7 1198.0v-135.2h2.5v135.2zM1315.7 1198.0v-50.0h2.5v50.0zM1319.6 1198.0v-98.6h2.5v98.6zM1323.6 1198.0v-160.5h2.5v160.5zM1327.6 1198.0v-168.0h2.5v168.0zM1331.6 1198.0v-192.7h2.5v192.7zM1335.5 1198.0v-203.9h2.5v203.9zM1339.5 1198.0v-124.7h2.5v124.7zM1343.5 1198.0v-44.0h2.5v44.0zM1347.4 1198.0v-105.3h2.5v105.3zM1351.4 1198.0v-168.0h2.5v168.0zM1355.4 1198.0v-164.3h2.5v164.3zM1359.4 1198.0v-142.6h2.5v142.6zM1363.3 1198.0v-59.0h2.5v59.0zM1367.3 1198.0v-9.0h2.5v9.0zM1371.3 1198.0v-6.7h2.5v6.7zM1375.2 1198.0v-10.5h2.5v10.5zM1379.2 1198.0v-6.7h2.5v6.7zM1383.2 1198.0v-1.0h2.5v1.0zM1387.1 1198.0v-318.0h2.5v318.0zM1391.1 1198.0v-194.1h2.5v194.1zM1395.1 1198.0v-138.9h2.5v138.9zM1399.1 1198.0v-50.0h2.5v50.0zM1403.0 1198.0v-124.7h2.5v124.7zM1407.0 1198.0v-185.9h2.5v185.9zM1411.0 1198.0v-181.5h2.5v181.5zM1414.9 1198.0v-197.1h2.5v197.1zM1418.9 1198.0v-215.0h2.5v215.0zM1422.9 1198.0v-163.5h2.5v163.5zM1426.9 1198.0v-62.7h2.5v62.7zM1430.8 1198.0v-103.8h2.5v103.8zM1434.8 1198.0v-174.7h2.5v174.7zM1438.8 1198.0v-177.7h2.5v177.7zM1442.7 1198.0v-189.7h2.5v189.7zM1446.7 1198.0v-203.1h2.5v203.1zM1450.7 1198.0v-214.0h2.5v214.0zM1458.6 1198.0v-104.5h2.5v104.5zM1462.6 1198.0v-148.6h2.5v148.6zM1466.6 1198.0v-159.8h2.5v159.8zM1470.5 1198.0v-168.8h2.5v168.8zM1474.5 1198.0v-177.7h2.5v177.7zM1478.5 1198.0v-130.7h2.5v130.7zM1482.4 1198.0v-35.0h2.5v35.0zM1486.4 1198.0v-73.2h2.5v73.2zM1490.4 1198.0v-99.3h2.5v99.3zM1494.3 1198.0v-100.8h2.5v100.8zM1498.3 1198.0v-103.8h2.5v103.8zM1502.3 1198.0v-188.2h2.5v188.2zM1506.3 1198.0v-91.8h2.5v91.8zM1510.2 1198.0v-78.4h2.5v78.4zM1514.2 1198.0v-139.6h2.5v139.6zM1518.2 1198.0v-185.2h2.5v185.2zM1522.1 1198.0v-184.4h2.5v184.4zM1526.1 1198.0v-186.7h2.5v186.7zM1530.1 1198.0v-163.5h2.5v163.5zM1534.1 1198.0v-98.2h2.5v98.2zM1538.0 1198.0v-99.8h2.5v99.8zM1542.0 1198.0v-76.0h2.5v76.0zM1546.0 1198.0v-110.0h2.5v110.0zM1549.9 1198.0v-65.7h2.5v65.7zM1553.9 1198.0v-80.2h2.5v80.2zM1557.9 1198.0v-136.3h2.5v136.3zM1561.8 1198.0v-102.7h2.5v102.7zM1565.8 1198.0v-51.5h2.5v51.5zM1569.8 1198.0v-69.0h2.5v69.0zM1573.8 1198.0v-97.5h2.5v97.5zM1577.7 1198.0v-104.4h2.5v104.4zM1581.7 1198.0v-111.0h2.5v111.0zM1585.7 1198.0v-138.0h2.5v138.0zM1589.6 1198.0v-110.3h2.5v110.3zM1593.6 1198.0v-38.7h2.5v38.7zM1597.6 1198.0v-88.0h2.5v88.0zM1601.6 1198.0v-82.1h2.5v82.1zM1605.5 1198.0v-54.6h2.5v54.6zM1609.5 1198.0v-76.3h2.5v76.3zM1613.5 1198.0v-92.1h2.5v92.1zM1617.4 1198.0v-68.0h2.5v68.0zM1621.4 1198.0v-29.9h2.5v29.9zM1625.4 1198.0v-44.0h2.5v44.0zM1629.3 1198.0v-58.7h2.5v58.7zM1633.3 1198.0v-57.5h2.5v57.5zM1637.3 1198.0v-79.2h2.5v79.2zM1641.3 1198.0v-99.7h2.5v99.7zM1645.2 1198.0v-81.5h2.5v81.5zM1649.2 1198.0v-25.2h2.5v25.2zM1653.2 1198.0v-39.3h2.5v39.3zM1657.1 1198.0v-59.8h2.5v59.8zM1661.1 1198.0v-63.4h2.5v63.4zM1665.1 1198.0v-64.5h2.5v64.5zM1669.1 1198.0v-98.0h2.5v98.0zM1673.0 1198.0v-80.4h2.5v80.4zM1677.0 1198.0v-33.4h2.5v33.4zM1681.0 1198.0v-38.1h2.5v38.1zM1684.9 1198.0v-61.0h2.5v61.0zM1688.9 1198.0v-74.5h2.5v74.5zM1692.9 1198.0v-86.8h2.5v86.8zM1696.8 1198.0v-107.9h2.5v107.9zM1700.8 1198.0v-90.9h2.5v90.9zM1704.8 1198.0v-39.9h2.5v39.9z"/></g>
<g clip-path="url(#ca)"><path fill="#FFFF00" fill-opacity="0.35" d="M159.53 1198.0v-0.5h3.97v0.5zM163.50 1198.0v-0.8h3.97v0.8zM167.47 1198.0v-1.0h3.97v1.0zM171.44 1198.0v-1.0h3.97v1.0zM175.41 1198.0v-1.0h3.97v1.0zM179.38 1198.0v-1.0h3.97v1.0zM183.35 1198.0v-1.2h3.97v1.2zM187.32 1198.0v-1.5h3.97v1.5zM191.29 1198.0v-1.5h3.97v1.5zM195.26 1198.0v-1.5h3.97v1.5zM199.23 1198.0v-1.5h3.97v1.5zM203.20 1198.0v-1.5h3.97v1.5zM207.17 1198.0v-1.8h3.97v1.8zM211.14 1198.0v-2.0h3.97v2.0zM215.11 1198.0v-2.0h3.97v2.0zM219.08 1198.0v-2.0h3.97v2.0zM223.05 1198.0v-2.0h3.97v2.0zM227.02 1198.0v-2.0h3.97v2.0zM231.00 1198.0v-2.2h3.97v2.2zM234.97 1198.0v-2.5h3.97v2.5zM238.94 1198.0v-2.5h3.97v2.5zM242.91 1198.0v-2.5h3.97v2.5zM246.88 1198.0v-3.0h3.97v3.0zM250.85 1198.0v-3.0h3.97v3.0zM254.82 1198.0v-3.0h3.97v3.0zM258.79 1198.0v-2.5h3.97v2.5zM262.76 1198.0v-3.0h3.97v3.0zM266.73 1198.0v-3.0h3.97v3.0zM270.70 1198.0v-3.5h3.97v3.5zM274.67 1198.0v-3.0h3.97v3.0zM278.64 1198.0v-10.0h3.97v10.0zM282.61 1198.0v-4.0h3.97v4.0zM286.58 1198.0v-3.0h3.97v3.0zM290.55 1198.0v-13.7h3.97v13.7zM294.52 1198.0v-7.0h3.97v7.0zM298.49 1198.0v-25.0h3.97v25.0zM302.46 1198.0v-27.6h3.97v27.6zM306.43 1198.0v-26.0h3.97v26.0zM310.41 1198.0v-6.7h3.97v6.7zM314.38 1198.0v-5.5h3.97v5.5zM318.35 1198.0v-3.0h3.97v3.0zM322.32 1198.0v-2.0h3.97v2.0zM326.29 1198.0v-1.5h3.97v1.5zM330.26 1198.0v-1.5h3.97v1.5zM334.23 1198.0v-2.0h3.97v2.0zM338.20 1198.0v-3.0h3.97v3.0zM342.17 1198.0v-3.0h3.97v3.0zM346.14 1198.0v-17.5h3.97v17.5zM350.11 1198.0v-20.8h3.97v20.8zM354.08 1198.0v-55.6h3.97v55.6zM358.05 1198.0v-36.9h3.97v36.9zM362.02 1198.0v-47.6h3.97v47.6zM365.99 1198.0v-10.3h3.97v10.3zM369.96 1198.0v-9.3h3.97v9.3zM373.93 1198.0v-26.4h3.97v26.4zM377.90 1198.0v-19.3h3.97v19.3zM381.87 1198.0v-22.0h3.97v22.0zM385.84 1198.0v-19.7h3.97v19.7zM389.82 1198.0v-16.7h3.97v16.7zM393.79 1198.0v-3.0h3.97v3.0zM397.76 1198.0v-2.0h3.97v2.0zM401.73 1198.0v-4.0h3.97v4.0zM405.70 1198.0v-27.6h3.97v27.6zM409.67 1198.0v-10.8h3.97v10.8zM413.64 1198.0v-18.2h3.97v18.2zM417.61 1198.0v-29.0h3.97v29.0zM421.58 1198.0v-5.5h3.97v5.5zM425.55 1198.0v-24.6h3.97v24.6zM429.52 1198.0v-32.4h3.97v32.4zM433.49 1198.0v-13.7h3.97v13.7zM437.46 1198.0v-38.4h3.97v38.4zM441.43 1198.0v-30.6h3.97v30.6zM445.40 1198.0v-34.3h3.97v34.3zM449.37 1198.0v-8.5h3.97v8.5zM453.34 1198.0v-8.5h3.97v8.5zM457.31 1198.0v-28.0h3.97v28.0zM461.28 1198.0v-38.4h3.97v38.4zM465.25 1198.0v-34.6h3.97v34.6zM469.23 1198.0v-39.6h3.97v39.6zM473.20 1198.0v-60.0h3.97v60.0zM477.17 1198.0v-19.7h3.97v19.7zM481.14 1198.0v-19.0h3.97v19.0zM485.11 1198.0v-41.7h3.97v41.7zM489.08 1198.0v-44.8h3.97v44.8zM493.05 1198.0v-22.7h3.97v22.7zM497.02 1198.0v-50.6h3.97v50.6zM500.99 1198.0v-57.8h3.97v57.8zM504.96 1198.0v-16.0h3.97v16.0zM508.93 1198.0v-22.7h3.97v22.7zM512.90 1198.0v-20.5h3.97v20.5zM516.87 1198.0v-28.8h3.97v28.8zM520.84 1198.0v-74.7h3.97v74.7zM524.81 1198.0v-20.0h3.97v20.0zM528.78 1198.0v-65.7h3.97v65.7zM532.75 1198.0v-17.0h3.97v17.0zM536.72 1198.0v-10.0h3.97v10.0zM540.69 1198.0v-151.0h3.97v151.0zM544.66 1198.0v-171.5h3.97v171.5zM548.64 1198.0v-122.5h3.97v122.5zM552.61 1198.0v-89.0h3.97v89.0zM556.58 1198.0v-111.6h3.97v111.6zM560.55 1198.0v-70.0h3.97v70.0zM564.52 1198.0v-50.0h3.97v50.0zM568.49 1198.0v-117.2h3.97v117.2zM572.46 1198.0v-97.8h3.97v97.8zM576.43 1198.0v-78.4h3.97v78.4zM580.40 1198.0v-76.9h3.97v76.9zM584.37 1198.0v-95.6h3.97v95.6zM588.34 1198.0v-35.0h3.97v35.0zM592.31 1198.0v-32.0h3.97v32.0zM596.28 1198.0v-82.0h3.97v82.0zM600.25 1198.0v-87.4h3.97v87.4zM604.22 1198.0v-91.0h3.97v91.0zM608.19 1198.0v-93.3h3.97v93.3zM612.16 1198.0v-117.5h3.97v117.5zM616.13 1198.0v-27.0h3.97v27.0zM620.10 1198.0v-33.6h3.97v33.6zM624.07 1198.0v-97.5h3.97v97.5zM628.05 1198.0v-92.6h3.97v92.6zM632.02 1198.0v-91.8h3.97v91.8zM635.99 1198.0v-108.6h3.97v108.6zM639.96 1198.0v-125.4h3.97v125.4zM643.93 1198.0v-36.0h3.97v36.0zM647.90 1198.0v-39.0h3.97v39.0zM651.87 1198.0v-101.6h3.97v101.6zM655.84 1198.0v-97.8h3.97v97.8zM659.81 1198.0v-105.3h3.97v105.3zM663.78 1198.0v-129.5h3.97v129.5zM667.75 1198.0v-145.3h3.97v145.3zM671.72 1198.0v-34.0h3.97v34.0zM675.69 1198.0v-35.0h3.97v35.0zM679.66 1198.0v-122.9h3.97v122.9zM683.63 1198.0v-116.5h3.97v116.5zM687.60 1198.0v-109.8h3.97v109.8zM691.57 1198.0v-105.3h3.97v105.3zM695.54 1198.0v-111.3h3.97v111.3zM699.51 1198.0v-33.6h3.97v33.6zM703.48 1198.0v-27.0h3.97v27.0zM707.46 1198.0v-89.0h3.97v89.0zM711.43 1198.0v-93.0h3.97v93.0zM715.40 1198.0v-101.0h3.97v101.0zM719.37 1198.0v-110.5h3.97v110.5zM723.34 1198.0v-128.0h3.97v128.0zM727.31 1198.0v-45.5h3.97v45.5zM731.28 1198.0v-32.0h3.97v32.0zM735.25 1198.0v-50.0h3.97v50.0zM739.22 1198.0v-118.7h3.97v118.7zM743.19 1198.0v-60.5h3.97v60.5zM747.16 1198.0v-152.8h3.97v152.8zM751.13 1198.0v-174.3h3.97v174.3zM755.10 1198.0v-69.4h3.97v69.4zM759.07 1198.0v-65.0h3.97v65.0zM763.04 1198.0v-120.2h3.97v120.2zM767.01 1198.0v-137.8h3.97v137.8zM770.98 1198.0v-139.3h3.97v139.3zM774.95 1198.0v-244.0h3.97v244.0zM778.92 1198.0v-235.8h3.97v235.8zM782.89 1198.0v-72.4h3.97v72.4zM786.87 1198.0v-69.4h3.97v69.4zM790.84 1198.0v-182.0h3.97v182.0zM794.81 1198.0v-198.6h3.97v198.6zM798.78 1198.0v-207.4h3.97v207.4zM802.75 1198.0v-80.6h3.97v80.6zM806.72 1198.0v-248.5h3.97v248.5zM810.69 1198.0v-85.0h3.97v85.0zM814.66 1198.0v-59.0h3.97v59.0zM818.63 1198.0v-184.4h3.97v184.4zM822.60 1198.0v-189.0h3.97v189.0zM826.57 1198.0v-199.4h3.97v199.4zM830.54 1198.0v-236.9h3.97v236.9zM834.51 1198.0v-221.6h3.97v221.6zM838.48 1198.0v-150.0h3.97v150.0zM842.45 1198.0v-74.7h3.97v74.7zM846.42 1198.0v-208.9h3.97v208.9zM850.39 1198.0v-212.7h3.97v212.7zM854.36 1198.0v-232.0h3.97v232.0zM858.33 1198.0v-244.0h3.97v244.0zM862.30 1198.0v-333.6h3.97v333.6zM866.28 1198.0v-94.8h3.97v94.8zM870.25 1198.0v-99.3h3.97v99.3zM874.22 1198.0v-297.0h3.97v297.0zM878.19 1198.0v-300.8h3.97v300.8zM882.16 1198.0v-301.0h3.97v301.0zM886.13 1198.0v-314.5h3.97v314.5zM890.10 1198.0v-336.6h3.97v336.6zM894.07 1198.0v-134.4h3.97v134.4zM898.04 1198.0v-118.0h3.97v118.0zM902.01 1198.0v-262.7h3.97v262.7zM905.98 1198.0v-300.8h3.97v300.8zM909.95 1198.0v-259.7h3.97v259.7zM913.92 1198.0v-253.7h3.97v253.7zM917.89 1198.0v-275.7h3.97v275.7zM921.86 1198.0v-156.0h3.97v156.0zM925.83 1198.0v-78.4h3.97v78.4zM929.80 1198.0v-246.0h3.97v246.0zM933.77 1198.0v-252.0h3.97v252.0zM937.74 1198.0v-302.0h3.97v302.0zM941.71 1198.0v-314.5h3.97v314.5zM945.69 1198.0v-250.0h3.97v250.0zM949.66 1198.0v-216.0h3.97v216.0zM953.63 1198.0v-93.3h3.97v93.3zM957.60 1198.0v-170.0h3.97v170.0zM961.57 1198.0v-294.8h3.97v294.8zM965.54 1198.0v-235.0h3.97v235.0zM969.51 1198.0v-250.0h3.97v250.0zM973.48 1198.0v-485.3h3.97v485.3zM977.45 1198.0v-79.0h3.97v79.0zM981.42 1198.0v-268.7h3.97v268.7zM985.39 1198.0v-257.5h3.97v257.5zM989.36 1198.0v-264.0h3.97v264.0zM993.33 1198.0v-245.5h3.97v245.5zM997.30 1198.0v-838.0h3.97v838.0zM1001.27 1198.0v-290.3h3.97v290.3zM1005.24 1198.0v-103.8h3.97v103.8zM1009.21 1198.0v-103.8h3.97v103.8zM1013.18 1198.0v-280.6h3.97v280.6zM1017.15 1198.0v-268.0h3.97v268.0zM1021.12 1198.0v-240.0h3.97v240.0zM1025.10 1198.0v-332.0h3.97v332.0zM1029.07 1198.0v-368.0h3.97v368.0zM1033.04 1198.0v-84.4h3.97v84.4zM1037.01 1198.0v-225.0h3.97v225.0zM1040.98 1198.0v-293.3h3.97v293.3zM1044.95 1198.0v-350.0h3.97v350.0zM1048.92 1198.0v-211.9h3.97v211.9zM1052.89 1198.0v-377.0h3.97v377.0zM1056.86 1198.0v-190.4h3.97v190.4zM1060.83 1198.0v-387.4h3.97v387.4zM1064.80 1198.0v-173.0h3.97v173.0zM1068.77 1198.0v-332.9h3.97v332.9zM1072.74 1198.0v-362.0h3.97v362.0zM1076.71 1198.0v-333.6h3.97v333.6zM1080.68 1198.0v-259.7h3.97v259.7zM1084.65 1198.0v-256.7h3.97v256.7zM1088.62 1198.0v-129.2h3.97v129.2zM1092.59 1198.0v-81.4h3.97v81.4zM1096.56 1198.0v-265.7h3.97v265.7zM1100.53 1198.0v-295.5h3.97v295.5zM1104.51 1198.0v-276.9h3.97v276.9zM1108.48 1198.0v-320.2h3.97v320.2zM1112.45 1198.0v-365.0h3.97v365.0zM1116.42 1198.0v-270.0h3.97v270.0zM1120.39 1198.0v-115.7h3.97v115.7zM1124.36 1198.0v-187.4h3.97v187.4zM1128.33 1198.0v-286.6h3.97v286.6zM1132.30 1198.0v-297.0h3.97v297.0zM1136.27 1198.0v-300.0h3.97v300.0zM1140.24 1198.0v-313.9h3.97v313.9zM1144.21 1198.0v-250.0h3.97v250.0zM1148.18 1198.0v-101.6h3.97v101.6zM1152.15 1198.0v-170.3h3.97v170.3zM1156.12 1198.0v-288.0h3.97v288.0zM1160.09 1198.0v-280.6h3.97v280.6zM1164.06 1198.0v-282.9h3.97v282.9zM1168.03 1198.0v-281.4h3.97v281.4zM1172.00 1198.0v-135.2h3.97v135.2zM1175.97 1198.0v-197.9h3.97v197.9zM1179.94 1198.0v-144.0h3.97v144.0zM1183.92 1198.0v-239.5h3.97v239.5zM1187.89 1198.0v-298.0h3.97v298.0zM1191.86 1198.0v-277.6h3.97v277.6zM1195.83 1198.0v-245.5h3.97v245.5zM1199.80 1198.0v-172.5h3.97v172.5zM1203.77 1198.0v-67.2h3.97v67.2zM1207.74 1198.0v-126.2h3.97v126.2zM1211.71 1198.0v-200.7h3.97v200.7zM1215.68 1198.0v-209.0h3.97v209.0zM1219.65 1198.0v-97.0h3.97v97.0zM1223.62 1198.0v-335.9h3.97v335.9zM1227.59 1198.0v-212.0h3.97v212.0zM1231.56 1198.0v-85.0h3.97v85.0zM1235.53 1198.0v-107.5h3.97v107.5zM1239.50 1198.0v-208.2h3.97v208.2zM1243.47 1198.0v-189.7h3.97v189.7zM1247.44 1198.0v-191.9h3.97v191.9zM1251.41 1198.0v-90.4h3.97v90.4zM1255.38 1198.0v-262.0h3.97v262.0zM1259.35 1198.0v-67.2h3.97v67.2zM1263.33 1198.0v-65.0h3.97v65.0zM1267.30 1198.0v-94.8h3.97v94.8zM1271.27 1198.0v-167.3h3.97v167.3zM1275.24 1198.0v-173.2h3.97v173.2zM1279.21 1198.0v-138.0h3.97v138.0zM1283.18 1198.0v-52.3h3.97v52.3zM1287.15 1198.0v-29.9h3.97v29.9zM1291.12 1198.0v-90.4h3.97v90.4zM1295.09 1198.0v-142.6h3.97v142.6zM1299.06 1198.0v-142.6h3.97v142.6zM1303.03 1198.0v-150.8h3.97v150.8zM1307.00 1198.0v-191.9h3.97v191.9zM1310.97 1198.0v-135.2h3.97v135.2zM1314.94 1198.0v-50.0h3.97v50.0zM1318.91 1198.0v-98.6h3.97v98.6zM1322.88 1198.0v-160.5h3.97v160.5zM1326.85 1198.0v-168.0h3.97v168.0zM1330.82 1198.0v-192.7h3.97v192.7zM1334.79 1198.0v-203.9h3.97v203.9zM1338.76 1198.0v-124.7h3.97v124.7zM1342.74 1198.0v-44.0h3.97v44.0zM1346.71 1198.0v-105.3h3.97v105.3zM1350.68 1198.0v-168.0h3.97v168.0zM1354.65 1198.0v-164.3h3.97v164.3zM1358.62 1198.0v-142.6h3.97v142.6zM1362.59 1198.0v-59.0h3.97v59.0zM1366.56 1198.0v-9.0h3.97v9.0zM1370.53 1198.0v-6.7h3.97v6.7zM1374.50 1198.0v-10.5h3.97v10.5zM1378.47 1198.0v-6.7h3.97v6.7zM1382.44 1198.0v-1.0h3.97v1.0zM1386.41 1198.0v-318.0h3.97v318.0zM1390.38 1198.0v-194.1h3.97v194.1zM1394.35 1198.0v-138.9h3.97v138.9zM1398.32 1198.0v-50.0h3.97v50.0zM1402.29 1198.0v-124.7h3.97v124.7zM1406.26 1198.0v-185.9h3.97v185.9zM1410.23 1198.0v-181.5h3.97v181.5zM1414.20 1198.0v-197.1h3.97v197.1zM1418.17 1198.0v-215.0h3.97v215.0zM1422.15 1198.0v-163.5h3.97v163.5zM1426.12 1198.0v-62.7h3.97v62.7zM1430.09 1198.0v-103.8h3.97v103.8zM1434.06 1198.0v-174.7h3.97v174.7zM1438.03 1198.0v-177.7h3.97v177.7zM1442.00 1198.0v-189.7h3.97v189.7zM1445.97 1198.0v-203.1h3.97v203.1zM1449.94 1198.0v-214.0h3.97v214.0zM1457.88 1198.0v-104.5h3.97v104.5zM1461.85 1198.0v-148.6h3.97v148.6zM1465.82 1198.0v-159.8h3.97v159.8zM1469.79 1198.0v-168.8h3.97v168.8zM1473.76 1198.0v-177.7h3.97v177.7zM1477.73 1198.0v-130.7h3.97v130.7zM1481.70 1198.0v-35.0h3.97v35.0zM1485.67 1198.0v-73.2h3.97v73.2zM1489.64 1198.0v-99.3h3.97v99.3zM1493.61 1198.0v-100.8h3.97v100.8zM1497.58 1198.0v-103.8h3.97v103.8zM1501.56 1198.0v-188.2h3.97v188.2zM1505.53 1198.0v-91.8h3.97v91.8zM1509.50 1198.0v-78.4h3.97v78.4zM1513.47 1198.0v-139.6h3.97v139.6zM1517.44 1198.0v-185.2h3.97v185.2zM1521.41 1198.0v-184.4h3.97v184.4zM1525.38 1198.0v-186.7h3.97v186.7zM1529.35 1198.0v-163.5h3.97v163.5zM1533.32 1198.0v-98.2h3.97v98.2zM1537.29 1198.0v-99.8h3.97v99.8zM1541.26 1198.0v-76.0h3.97v76.0zM1545.23 1198.0v-110.0h3.97v110.0zM1549.20 1198.0v-65.7h3.97v65.7zM1553.17 1198.0v-80.2h3.97v80.2zM1557.14 1198.0v-136.3h3.97v136.3zM1561.11 1198.0v-102.7h3.97v102.7zM1565.08 1198.0v-51.5h3.97v51.5zM1569.05 1198.0v-69.0h3.97v69.0zM1573.02 1198.0v-97.5h3.97v97.5zM1576.99 1198.0v-104.4h3.97v104.4zM1580.97 1198.0v-111.0h3.97v111.0zM1584.94 1198.0v-138.0h3.97v138.0zM1588.91 1198.0v-110.3h3.97v110.3zM1592.88 1198.0v-38.7h3.97v38.7zM1596.85 1198.0v-88.0h3.97v88.0zM1600.82 1198.0v-82.1h3.97v82.1zM1604.79 1198.0v-54.6h3.97v54.6zM1608.76 1198.0v-76.3h3.97v76.3zM1612.73 1198.0v-92.1h3.97v92.1zM1616.70 1198.0v-68.0h3.97v68.0zM1620.67 1198.0v-29.9h3.97v29.9zM1624.64 1198.0v-44.0h3.97v44.0zM1628.61 1198.0v-58.7h3.97v58.7zM1632.58 1198.0v-57.5h3.97v57.5zM1636.55 1198.0v-79.2h3.97v79.2zM1640.52 1198.0v-99.7h3.97v99.7zM1644.49 1198.0v-81.5h3.97v81.5zM1648.46 1198.0v-25.2h3.97v25.2zM1652.43 1198.0v-39.3h3.97v39.3zM1656.40 1198.0v-59.8h3.97v59.8zM1660.38 1198.0v-63.4h3.97v63.4zM1664.35 1198.0v-64.5h3.97v64.5zM1668.32 1198.0v-98.0h3.97v98.0zM1672.29 1198.0v-80.4h3.97v80.4zM1676.26 1198.0v-33.4h3.97v33.4zM1680.23 1198.0v-38.1h3.97v38.1zM1684.20 1198.0v-61.0h3.97v61.0zM1688.17 1198.0v-74.5h3.97v74.5zM1692.14 1198.0v-86.8h3.97v86.8zM1696.11 1198.0v-107.9h3.97v107.9zM1700.08 1198.0v-90.9h3.97v90.9zM1704.05 1198.0v-39.9h3.97v39.9z"/><path fill="#FAFF32" fill-opacity="0.92" d="M160.3 1198.0v-0.5h2.5v0.5zM164.2 1198.0v-0.8h2.5v0.8zM168.2 1198.0v-1.0h2.5v1.0zM172.2 1198.0v-1.0h2.5v1.0zM176.1 1198.0v-1.0h2.5v1.0zM180.1 1198.0v-1.0h2.5v1.0zM184.1 1198.0v-1.2h2.5v1.2zM188.1 1198.0v-1.5h2.5v1.5zM192.0 1198.0v-1.5h2.5v1.5zM196.0 1198.0v-1.5h2.5v1.5zM200.0 1198.0v-1.5h2.5v1.5zM203.9 1198.0v-1.5h2.5v1.5zM207.9 1198.0v-1.8h2.5v1.8zM211.9 1198.0v-2.0h2.5v2.0zM215.8 1198.0v-2.0h2.5v2.0zM219.8 1198.0v-2.0h2.5v2.0zM223.8 1198.0v-2.0h2.5v2.0zM227.8 1198.0v-2.0h2.5v2.0zM231.7 1198.0v-2.2h2.5v2.2zM235.7 1198.0v-2.5h2.5v2.5zM239.7 1198.0v-2.5h2.5v2.5zM243.6 1198.0v-2.5h2.5v2.5zM247.6 1198.0v-3.0h2.5v3.0zM251.6 1198.0v-3.0h2.5v3.0zM255.6 1198.0v-3.0h2.5v3.0zM259.5 1198.0v-2.5h2.5v2.5zM263.5 1198.0v-3.0h2.5v3.0zM267.5 1198.0v-3.0h2.5v3.0zM271.4 1198.0v-3.5h2.5v3.5zM275.4 1198.0v-3.0h2.5v3.0zM279.4 1198.0v-10.0h2.5v10.0zM283.3 1198.0v-4.0h2.5v4.0zM287.3 1198.0v-3.0h2.5v3.0zM291.3 1198.0v-13.7h2.5v13.7zM295.3 1198.0v-7.0h2.5v7.0zM299.2 1198.0v-25.0h2.5v25.0zM303.2 1198.0v-27.6h2.5v27.6zM307.2 1198.0v-26.0h2.5v26.0zM311.1 1198.0v-6.7h2.5v6.7zM315.1 1198.0v-5.5h2.5v5.5zM319.1 1198.0v-3.0h2.5v3.0zM323.1 1198.0v-2.0h2.5v2.0zM327.0 1198.0v-1.5h2.5v1.5zM331.0 1198.0v-1.5h2.5v1.5zM335.0 1198.0v-2.0h2.5v2.0zM338.9 1198.0v-3.0h2.5v3.0zM342.9 1198.0v-3.0h2.5v3.0zM346.9 1198.0v-17.5h2.5v17.5zM350.8 1198.0v-20.8h2.5v20.8zM354.8 1198.0v-55.6h2.5v55.6zM358.8 1198.0v-36.9h2.5v36.9zM362.8 1198.0v-47.6h2.5v47.6zM366.7 1198.0v-10.3h2.5v10.3zM370.7 1198.0v-9.3h2.5v9.3zM374.7 1198.0v-26.4h2.5v26.4zM378.6 1198.0v-19.3h2.5v19.3zM382.6 1198.0v-22.0h2.5v22.0zM386.6 1198.0v-19.7h2.5v19.7zM390.6 1198.0v-16.7h2.5v16.7zM394.5 1198.0v-3.0h2.5v3.0zM398.5 1198.0v-2.0h2.5v2.0zM402.5 1198.0v-4.0h2.5v4.0zM406.4 1198.0v-27.6h2.5v27.6zM410.4 1198.0v-10.8h2.5v10.8zM414.4 1198.0v-18.2h2.5v18.2zM418.3 1198.0v-29.0h2.5v29.0zM422.3 1198.0v-5.5h2.5v5.5zM426.3 1198.0v-24.6h2.5v24.6zM430.3 1198.0v-32.4h2.5v32.4zM434.2 1198.0v-13.7h2.5v13.7zM438.2 1198.0v-38.4h2.5v38.4zM442.2 1198.0v-30.6h2.5v30.6zM446.1 1198.0v-34.3h2.5v34.3zM450.1 1198.0v-8.5h2.5v8.5zM454.1 1198.0v-8.5h2.5v8.5zM458.0 1198.0v-28.0h2.5v28.0zM462.0 1198.0v-38.4h2.5v38.4zM466.0 1198.0v-34.6h2.5v34.6zM470.0 1198.0v-39.6h2.5v39.6zM473.9 1198.0v-60.0h2.5v60.0zM477.9 1198.0v-19.7h2.5v19.7zM481.9 1198.0v-19.0h2.5v19.0zM485.8 1198.0v-41.7h2.5v41.7zM489.8 1198.0v-44.8h2.5v44.8zM493.8 1198.0v-22.7h2.5v22.7zM497.8 1198.0v-50.6h2.5v50.6zM501.7 1198.0v-57.8h2.5v57.8zM505.7 1198.0v-16.0h2.5v16.0zM509.7 1198.0v-22.7h2.5v22.7zM513.6 1198.0v-20.5h2.5v20.5zM517.6 1198.0v-28.8h2.5v28.8zM521.6 1198.0v-74.7h2.5v74.7zM525.5 1198.0v-20.0h2.5v20.0zM529.5 1198.0v-65.7h2.5v65.7zM533.5 1198.0v-17.0h2.5v17.0zM537.5 1198.0v-10.0h2.5v10.0zM541.4 1198.0v-151.0h2.5v151.0zM545.4 1198.0v-171.5h2.5v171.5zM549.4 1198.0v-122.5h2.5v122.5zM553.3 1198.0v-89.0h2.5v89.0zM557.3 1198.0v-111.6h2.5v111.6zM561.3 1198.0v-70.0h2.5v70.0zM565.3 1198.0v-50.0h2.5v50.0zM569.2 1198.0v-117.2h2.5v117.2zM573.2 1198.0v-97.8h2.5v97.8zM577.2 1198.0v-78.4h2.5v78.4zM581.1 1198.0v-76.9h2.5v76.9zM585.1 1198.0v-95.6h2.5v95.6zM589.1 1198.0v-35.0h2.5v35.0zM593.0 1198.0v-32.0h2.5v32.0zM597.0 1198.0v-82.0h2.5v82.0zM601.0 1198.0v-87.4h2.5v87.4zM605.0 1198.0v-91.0h2.5v91.0zM608.9 1198.0v-93.3h2.5v93.3zM612.9 1198.0v-117.5h2.5v117.5zM616.9 1198.0v-27.0h2.5v27.0zM620.8 1198.0v-33.6h2.5v33.6zM624.8 1198.0v-97.5h2.5v97.5zM628.8 1198.0v-92.6h2.5v92.6zM632.8 1198.0v-91.8h2.5v91.8zM636.7 1198.0v-108.6h2.5v108.6zM640.7 1198.0v-125.4h2.5v125.4zM644.7 1198.0v-36.0h2.5v36.0zM648.6 1198.0v-39.0h2.5v39.0zM652.6 1198.0v-101.6h2.5v101.6zM656.6 1198.0v-97.8h2.5v97.8zM660.5 1198.0v-105.3h2.5v105.3zM664.5 1198.0v-129.5h2.5v129.5zM668.5 1198.0v-145.3h2.5v145.3zM672.5 1198.0v-34.0h2.5v34.0zM676.4 1198.0v-35.0h2.5v35.0zM680.4 1198.0v-122.9h2.5v122.9zM684.4 1198.0v-116.5h2.5v116.5zM688.3 1198.0v-109.8h2.5v109.8zM692.3 1198.0v-105.3h2.5v105.3zM696.3 1198.0v-111.3h2.5v111.3zM700.2 1198.0v-33.6h2.5v33.6zM704.2 1198.0v-27.0h2.5v27.0zM708.2 1198.0v-89.0h2.5v89.0zM712.2 1198.0v-93.0h2.5v93.0zM716.1 1198.0v-101.0h2.5v101.0zM720.1 1198.0v-110.5h2.5v110.5zM724.1 1198.0v-128.0h2.5v128.0zM728.0 1198.0v-45.5h2.5v45.5zM732.0 1198.0v-32.0h2.5v32.0zM736.0 1198.0v-50.0h2.5v50.0zM740.0 1198.0v-118.7h2.5v118.7zM743.9 1198.0v-60.5h2.5v60.5zM747.9 1198.0v-152.8h2.5v152.8zM751.9 1198.0v-174.3h2.5v174.3zM755.8 1198.0v-69.4h2.5v69.4zM759.8 1198.0v-65.0h2.5v65.0zM763.8 1198.0v-120.2h2.5v120.2zM767.7 1198.0v-137.8h2.5v137.8zM771.7 1198.0v-139.3h2.5v139.3zM775.7 1198.0v-244.0h2.5v244.0zM779.7 1198.0v-235.8h2.5v235.8zM783.6 1198.0v-72.4h2.5v72.4zM787.6 1198.0v-69.4h2.5v69.4zM791.6 1198.0v-182.0h2.5v182.0zM795.5 1198.0v-198.6h2.5v198.6zM799.5 1198.0v-207.4h2.5v207.4zM803.5 1198.0v-80.6h2.5v80.6zM807.5 1198.0v-248.5h2.5v248.5zM811.4 1198.0v-85.0h2.5v85.0zM815.4 1198.0v-59.0h2.5v59.0zM819.4 1198.0v-184.4h2.5v184.4zM823.3 1198.0v-189.0h2.5v189.0zM827.3 1198.0v-199.4h2.5v199.4zM831.3 1198.0v-236.9h2.5v236.9zM835.2 1198.0v-221.6h2.5v221.6zM839.2 1198.0v-150.0h2.5v150.0zM843.2 1198.0v-74.7h2.5v74.7zM847.2 1198.0v-208.9h2.5v208.9zM851.1 1198.0v-212.7h2.5v212.7zM855.1 1198.0v-232.0h2.5v232.0zM859.1 1198.0v-244.0h2.5v244.0zM863.0 1198.0v-333.6h2.5v333.6zM867.0 1198.0v-94.8h2.5v94.8zM871.0 1198.0v-99.3h2.5v99.3zM875.0 1198.0v-297.0h2.5v297.0zM878.9 1198.0v-300.8h2.5v300.8zM882.9 1198.0v-301.0h2.5v301.0zM886.9 1198.0v-314.5h2.5v314.5zM890.8 1198.0v-336.6h2.5v336.6zM894.8 1198.0v-134.4h2.5v134.4zM898.8 1198.0v-118.0h2.5v118.0zM902.7 1198.0v-262.7h2.5v262.7zM906.7 1198.0v-300.8h2.5v300.8zM910.7 1198.0v-259.7h2.5v259.7zM914.7 1198.0v-253.7h2.5v253.7zM918.6 1198.0v-275.7h2.5v275.7zM922.6 1198.0v-156.0h2.5v156.0zM926.6 1198.0v-78.4h2.5v78.4zM930.5 1198.0v-246.0h2.5v246.0zM934.5 1198.0v-252.0h2.5v252.0zM938.5 1198.0v-302.0h2.5v302.0zM942.5 1198.0v-314.5h2.5v314.5zM946.4 1198.0v-250.0h2.5v250.0zM950.4 1198.0v-216.0h2.5v216.0zM954.4 1198.0v-93.3h2.5v93.3zM958.3 1198.0v-170.0h2.5v170.0zM962.3 1198.0v-294.8h2.5v294.8zM966.3 1198.0v-235.0h2.5v235.0zM970.2 1198.0v-250.0h2.5v250.0zM974.2 1198.0v-485.3h2.5v485.3zM978.2 1198.0v-79.0h2.5v79.0zM982.2 1198.0v-268.7h2.5v268.7zM986.1 1198.0v-257.5h2.5v257.5zM990.1 1198.0v-264.0h2.5v264.0zM994.1 1198.0v-245.5h2.5v245.5zM998.0 1198.0v-838.0h2.5v838.0zM1002.0 1198.0v-290.3h2.5v290.3zM1006.0 1198.0v-103.8h2.5v103.8zM1009.9 1198.0v-103.8h2.5v103.8zM1013.9 1198.0v-280.6h2.5v280.6zM1017.9 1198.0v-268.0h2.5v268.0zM1021.9 1198.0v-240.0h2.5v240.0zM1025.8 1198.0v-332.0h2.5v332.0zM1029.8 1198.0v-368.0h2.5v368.0zM1033.8 1198.0v-84.4h2.5v84.4zM1037.7 1198.0v-225.0h2.5v225.0zM1041.7 1198.0v-293.3h2.5v293.3zM1045.7 1198.0v-350.0h2.5v350.0zM1049.7 1198.0v-211.9h2.5v211.9zM1053.6 1198.0v-377.0h2.5v377.0zM1057.6 1198.0v-190.4h2.5v190.4zM1061.6 1198.0v-387.4h2.5v387.4zM1065.5 1198.0v-173.0h2.5v173.0zM1069.5 1198.0v-332.9h2.5v332.9zM1073.5 1198.0v-362.0h2.5v362.0zM1077.4 1198.0v-333.6h2.5v333.6zM1081.4 1198.0v-259.7h2.5v259.7zM1085.4 1198.0v-256.7h2.5v256.7zM1089.4 1198.0v-129.2h2.5v129.2zM1093.3 1198.0v-81.4h2.5v81.4zM1097.3 1198.0v-265.7h2.5v265.7zM1101.3 1198.0v-295.5h2.5v295.5zM1105.2 1198.0v-276.9h2.5v276.9zM1109.2 1198.0v-320.2h2.5v320.2zM1113.2 1198.0v-365.0h2.5v365.0zM1117.2 1198.0v-270.0h2.5v270.0zM1121.1 1198.0v-115.7h2.5v115.7zM1125.1 1198.0v-187.4h2.5v187.4zM1129.1 1198.0v-286.6h2.5v286.6zM1133.0 1198.0v-297.0h2.5v297.0zM1137.0 1198.0v-300.0h2.5v300.0zM1141.0 1198.0v-313.9h2.5v313.9zM1144.9 1198.0v-250.0h2.5v250.0zM1148.9 1198.0v-101.6h2.5v101.6zM1152.9 1198.0v-170.3h2.5v170.3zM1156.9 1198.0v-288.0h2.5v288.0zM1160.8 1198.0v-280.6h2.5v280.6zM1164.8 1198.0v-282.9h2.5v282.9zM1168.8 1198.0v-281.4h2.5v281.4zM1172.7 1198.0v-135.2h2.5v135.2zM1176.7 1198.0v-197.9h2.5v197.9zM1180.7 1198.0v-144.0h2.5v144.0zM1184.7 1198.0v-239.5h2.5v239.5zM1188.6 1198.0v-298.0h2.5v298.0zM1192.6 1198.0v-277.6h2.5v277.6zM1196.6 1198.0v-245.5h2.5v245.5zM1200.5 1198.0v-172.5h2.5v172.5zM1204.5 1198.0v-67.2h2.5v67.2zM1208.5 1198.0v-126.2h2.5v126.2zM1212.4 1198.0v-200.7h2.5v200.7zM1216.4 1198.0v-209.0h2.5v209.0zM1220.4 1198.0v-97.0h2.5v97.0zM1224.4 1198.0v-335.9h2.5v335.9zM1228.3 1198.0v-212.0h2.5v212.0zM1232.3 1198.0v-85.0h2.5v85.0zM1236.3 1198.0v-107.5h2.5v107.5zM1240.2 1198.0v-208.2h2.5v208.2zM1244.2 1198.0v-189.7h2.5v189.7zM1248.2 1198.0v-191.9h2.5v191.9zM1252.1 1198.0v-90.4h2.5v90.4zM1256.1 1198.0v-262.0h2.5v262.0zM1260.1 1198.0v-67.2h2.5v67.2zM1264.1 1198.0v-65.0h2.5v65.0zM1268.0 1198.0v-94.8h2.5v94.8zM1272.0 1198.0v-167.3h2.5v167.3zM1276.0 1198.0v-173.2h2.5v173.2zM1279.9 1198.0v-138.0h2.5v138.0zM1283.9 1198.0v-52.3h2.5v52.3zM1287.9 1198.0v-29.9h2.5v29.9zM1291.9 1198.0v-90.4h2.5v90.4zM1295.8 1198.0v-142.6h2.5v142.6zM1299.8 1198.0v-142.6h2.5v142.6zM1303.8 1198.0v-150.8h2.5v150.8zM1307.7 1198.0v-191.9h2.5v191.9zM1311.7 1198.0v-135.2h2.5v135.2zM1315.7 1198.0v-50.0h2.5v50.0zM1319.6 1198.0v-98.6h2.5v98.6zM1323.6 1198.0v-160.5h2.5v160.5zM1327.6 1198.0v-168.0h2.5v168.0zM1331.6 1198.0v-192.7h2.5v192.7zM1335.5 1198.0v-203.9h2.5v203.9zM1339.5 1198.0v-124.7h2.5v124.7zM1343.5 1198.0v-44.0h2.5v44.0zM1347.4 1198.0v-105.3h2.5v105.3zM1351.4 1198.0v-168.0h2.5v168.0zM1355.4 1198.0v-164.3h2.5v164.3zM1359.4 1198.0v-142.6h2.5v142.6zM1363.3 1198.0v-59.0h2.5v59.0zM1367.3 1198.0v-9.0h2.5v9.0zM1371.3 1198.0v-6.7h2.5v6.7zM1375.2 1198.0v-10.5h2.5v10.5zM1379.2 1198.0v-6.7h2.5v6.7zM1383.2 1198.0v-1.0h2.5v1.0zM1387.1 1198.0v-318.0h2.5v318.0zM1391.1 1198.0v-194.1h2.5v194.1zM1395.1 1198.0v-138.9h2.5v138.9zM1399.1 1198.0v-50.0h2.5v50.0zM1403.0 1198.0v-124.7h2.5v124.7zM1407.0 1198.0v-185.9h2.5v185.9zM1411.0 1198.0v-181.5h2.5v181.5zM1414.9 1198.0v-197.1h2.5v197.1zM1418.9 1198.0v-215.0h2.5v215.0zM1422.9 1198.0v-163.5h2.5v163.5zM1426.9 1198.0v-62.7h2.5v62.7zM1430.8 1198.0v-103.8h2.5v103.8zM1434.8 1198.0v-174.7h2.5v174.7zM1438.8 1198.0v-177.7h2.5v177.7zM1442.7 1198.0v-189.7h2.5v189.7zM1446.7 1198.0v-203.1h2.5v203.1zM1450.7 1198.0v-214.0h2.5v214.0zM1458.6 1198.0v-104.5h2.5v104.5zM1462.6 1198.0v-148.6h2.5v148.6zM1466.6 1198.0v-159.8h2.5v159.8zM1470.5 1198.0v-168.8h2.5v168.8zM1474.5 1198.0v-177.7h2.5v177.7zM1478.5 1198.0v-130.7h2.5v130.7zM1482.4 1198.0v-35.0h2.5v35.0zM1486.4 1198.0v-73.2h2.5v73.2zM1490.4 1198.0v-99.3h2.5v99.3zM1494.3 1198.0v-100.8h2.5v100.8zM1498.3 1198.0v-103.8h2.5v103.8zM1502.3 1198.0v-188.2h2.5v188.2zM1506.3 1198.0v-91.8h2.5v91.8zM1510.2 1198.0v-78.4h2.5v78.4zM1514.2 1198.0v-139.6h2.5v139.6zM1518.2 1198.0v-185.2h2.5v185.2zM1522.1 1198.0v-184.4h2.5v184.4zM1526.1 1198.0v-186.7h2.5v186.7zM1530.1 1198.0v-163.5h2.5v163.5zM1534.1 1198.0v-98.2h2.5v98.2zM1538.0 1198.0v-99.8h2.5v99.8zM1542.0 1198.0v-76.0h2.5v76.0zM1546.0 1198.0v-110.0h2.5v110.0zM1549.9 1198.0v-65.7h2.5v65.7zM1553.9 1198.0v-80.2h2.5v80.2zM1557.9 1198.0v-136.3h2.5v136.3zM1561.8 1198.0v-102.7h2.5v102.7zM1565.8 1198.0v-51.5h2.5v51.5zM1569.8 1198.0v-69.0h2.5v69.0zM1573.8 1198.0v-97.5h2.5v97.5zM1577.7 1198.0v-104.4h2.5v104.4zM1581.7 1198.0v-111.0h2.5v111.0zM1585.7 1198.0v-138.0h2.5v138.0zM1589.6 1198.0v-110.3h2.5v110.3zM1593.6 1198.0v-38.7h2.5v38.7zM1597.6 1198.0v-88.0h2.5v88.0zM1601.6 1198.0v-82.1h2.5v82.1zM1605.5 1198.0v-54.6h2.5v54.6zM1609.5 1198.0v-76.3h2.5v76.3zM1613.5 1198.0v-92.1h2.5v92.1zM1617.4 1198.0v-68.0h2.5v68.0zM1621.4 1198.0v-29.9h2.5v29.9zM1625.4 1198.0v-44.0h2.5v44.0zM1629.3 1198.0v-58.7h2.5v58.7zM1633.3 1198.0v-57.5h2.5v57.5zM1637.3 1198.0v-79.2h2.5v79.2zM1641.3 1198.0v-99.7h2.5v99.7zM1645.2 1198.0v-81.5h2.5v81.5zM1649.2 1198.0v-25.2h2.5v25.2zM1653.2 1198.0v-39.3h2.5v39.3zM1657.1 1198.0v-59.8h2.5v59.8zM1661.1 1198.0v-63.4h2.5v63.4zM1665.1 1198.0v-64.5h2.5v64.5zM1669.1 1198.0v-98.0h2.5v98.0zM1673.0 1198.0v-80.4h2.5v80.4zM1677.0 1198.0v-33.4h2.5v33.4zM1681.0 1198.0v-38.1h2.5v38.1zM1684.9 1198.0v-61.0h2.5v61.0zM1688.9 1198.0v-74.5h2.5v74.5zM1692.9 1198.0v-86.8h2.5v86.8zM1696.8 1198.0v-107.9h2.5v107.9zM1700.8 1198.0v-90.9h2.5v90.9zM1704.8 1198.0v-39.9h2.5v39.9z"/></g>
<path fill="none" stroke="#FF0000" stroke-width="6.2" stroke-linejoin="round" stroke-linecap="round" d="M148.0 1196.8C158.4 1196.7 181.6 1197.0 200.0 1196.5C218.4 1196.0 229.0 1194.7 240.0 1194.5C251.0 1194.3 249.0 1195.2 254.9 1195.3C260.9 1195.4 264.5 1195.2 269.9 1195.0C275.2 1194.8 277.6 1195.0 281.8 1194.2C286.0 1193.5 287.2 1192.9 290.8 1191.3C294.4 1189.6 296.5 1187.7 299.7 1186.0C303.0 1184.4 304.2 1183.9 307.2 1183.0C310.2 1182.2 311.7 1181.3 314.7 1181.6C317.7 1181.9 319.2 1182.6 322.1 1184.5C325.1 1186.5 326.9 1189.0 329.6 1191.3C332.3 1193.5 333.2 1194.6 335.6 1195.7C338.0 1196.8 339.2 1196.9 341.6 1196.8C343.9 1196.7 345.1 1196.8 347.5 1195.0C349.9 1193.1 351.1 1190.8 353.5 1187.5C355.9 1184.2 356.8 1181.9 359.5 1178.6C362.2 1175.3 364.0 1173.2 366.9 1171.1C369.9 1169.0 371.7 1168.6 374.4 1168.1C377.1 1167.7 378.0 1168.0 380.4 1168.9C382.8 1169.8 383.4 1170.7 386.4 1172.6C389.3 1174.5 391.7 1176.3 395.3 1178.6C398.9 1180.8 400.7 1182.3 404.3 1183.8C407.9 1185.3 410.3 1185.9 413.2 1186.0C416.2 1186.2 416.5 1185.7 419.2 1184.5C421.9 1183.3 423.7 1181.9 426.7 1180.1C429.7 1178.3 431.2 1176.9 434.1 1175.6C437.1 1174.2 438.6 1173.9 441.6 1173.3C444.6 1172.7 446.4 1172.4 449.1 1172.6C451.8 1172.7 452.7 1173.9 455.1 1174.1C457.4 1174.2 458.3 1173.9 461.0 1173.3C463.7 1172.7 465.5 1172.4 468.5 1171.1C471.5 1169.8 473.3 1168.3 476.0 1166.6C478.6 1165.0 479.5 1163.9 481.9 1162.9C484.3 1161.8 484.9 1161.7 487.9 1161.4C490.9 1161.1 493.3 1161.3 496.9 1161.4C500.5 1161.5 503.1 1161.5 505.8 1161.8C508.5 1162.1 508.0 1161.7 510.3 1162.9C512.6 1164.1 515.0 1168.5 517.5 1167.7C519.9 1166.9 520.6 1159.5 522.7 1158.8C524.8 1158.0 525.7 1163.1 527.9 1164.0C530.2 1164.9 531.7 1163.2 533.9 1163.2C536.1 1163.2 537.5 1168.2 539.1 1164.0C540.8 1159.8 540.8 1150.2 542.1 1142.3C543.5 1134.4 543.9 1130.1 545.8 1124.4C547.8 1118.7 549.4 1118.1 551.8 1114.0C554.2 1109.8 555.5 1107.1 557.8 1103.5C560.0 1099.9 561.3 1097.9 563.0 1096.0C564.7 1094.2 565.1 1093.9 566.5 1094.2C567.8 1094.5 568.5 1095.1 569.7 1097.5C571.0 1100.0 571.2 1103.2 572.7 1106.5C574.2 1109.8 574.8 1111.6 577.2 1114.0C579.6 1116.3 581.7 1117.1 584.7 1118.4C587.7 1119.8 589.5 1119.2 592.1 1120.7C594.8 1122.2 596.0 1124.6 598.1 1125.9C600.2 1127.2 600.5 1127.8 602.6 1127.4C604.7 1126.9 606.2 1124.9 608.6 1123.7C611.0 1122.5 611.9 1122.0 614.5 1121.4C617.2 1120.8 619.0 1121.0 622.0 1120.7C625.0 1120.4 626.5 1120.7 629.5 1119.9C632.5 1119.2 634.0 1118.1 636.9 1116.9C639.9 1115.7 641.4 1115.0 644.4 1114.0C647.4 1112.9 648.9 1112.5 651.9 1111.7C654.9 1111.0 656.7 1111.1 659.3 1110.2C662.0 1109.3 662.9 1108.4 665.3 1107.2C667.7 1106.0 669.2 1104.7 671.3 1104.2C673.4 1103.8 674.0 1105.1 675.8 1105.0C677.6 1104.8 678.3 1104.8 680.3 1103.5C682.2 1102.2 683.8 1099.4 685.5 1098.3C687.1 1097.1 687.1 1097.2 688.5 1097.8C689.8 1098.4 690.6 1099.8 692.2 1101.3C693.8 1102.7 694.6 1103.9 696.7 1105.0C698.8 1106.0 700.6 1105.9 702.7 1106.5C704.7 1107.1 705.3 1106.5 707.1 1108.0C708.9 1109.5 709.5 1112.0 711.6 1114.0C713.7 1115.9 715.2 1117.5 717.6 1117.7C720.0 1117.8 721.2 1115.9 723.6 1114.7C725.9 1113.5 727.4 1112.2 729.5 1111.7C731.6 1111.3 732.4 1111.3 734.0 1112.5C735.7 1113.7 736.4 1117.1 737.7 1117.7C739.1 1118.3 739.2 1114.9 740.7 1115.4C742.2 1116.0 743.6 1121.0 745.2 1120.7C746.9 1120.4 747.0 1117.1 748.9 1114.0C750.9 1110.8 752.5 1107.7 754.9 1105.0C757.3 1102.3 758.8 1103.2 760.9 1100.5C763.0 1097.8 763.6 1094.2 765.4 1091.6C767.2 1088.9 767.7 1093.0 769.9 1087.1C772.0 1081.1 773.0 1068.0 776.0 1061.7C779.0 1055.4 781.4 1059.6 784.9 1055.7C788.5 1051.8 790.9 1048.6 793.9 1042.3C796.9 1035.9 798.1 1023.7 800.0 1023.9C801.9 1024.1 801.7 1038.7 803.4 1043.5C805.1 1048.3 806.6 1047.5 808.5 1047.7C810.4 1047.9 810.2 1044.6 812.8 1044.3C815.4 1044.0 818.4 1046.0 821.3 1046.0C824.2 1046.0 825.2 1047.9 827.3 1044.3C829.4 1040.7 830.2 1031.7 831.6 1028.1C833.0 1024.5 832.9 1026.4 834.1 1026.4C835.3 1026.4 835.4 1029.3 837.5 1028.1C839.6 1026.9 841.7 1023.1 844.4 1020.4C847.1 1017.7 848.5 1016.9 851.2 1014.5C853.9 1012.1 856.0 1010.4 858.0 1008.5C860.0 1006.6 860.0 1008.5 861.4 1005.1C862.8 1001.7 863.4 993.5 864.8 991.4C866.2 989.3 866.8 994.3 868.3 994.8C869.8 995.3 870.8 996.4 872.5 994.0C874.2 991.6 875.1 987.5 876.8 982.9C878.5 978.3 879.4 976.1 881.1 971.0C882.8 965.9 883.8 961.6 885.3 957.3C886.8 953.0 887.0 952.2 888.7 949.6C890.4 947.0 892.0 946.5 893.9 944.5C895.8 942.5 896.4 939.6 898.1 939.4C899.8 939.2 900.5 942.2 902.4 943.7C904.3 945.2 905.6 945.2 907.5 947.1C909.4 949.0 909.9 949.6 911.8 953.0C913.7 956.4 915.4 961.2 916.9 964.1C918.4 967.0 918.3 967.2 919.5 967.5C920.7 967.8 921.4 965.5 922.9 965.8C924.4 966.1 925.4 967.5 927.1 969.2C928.8 970.9 929.7 972.2 931.4 974.4C933.1 976.6 934.0 980.8 935.7 980.3C937.4 979.8 938.4 974.4 939.9 971.8C941.4 969.2 941.8 966.8 943.3 967.5C944.8 968.2 945.9 975.0 947.6 975.2C949.3 975.4 950.4 970.3 951.9 968.4C953.4 966.5 953.7 964.6 955.3 965.8C956.9 967.0 958.2 973.4 960.0 974.4C961.8 975.4 962.1 967.0 964.1 970.7C966.2 974.4 967.9 996.8 970.1 993.1C972.4 989.4 973.6 956.8 975.3 952.0C977.1 947.3 977.1 971.2 979.1 969.2C981.0 967.3 983.3 947.4 985.1 942.3C986.8 937.3 986.2 942.9 988.0 943.8C989.8 944.7 992.2 954.3 994.0 946.8C995.8 939.3 995.8 923.8 997.0 906.5C998.2 889.2 998.8 864.4 1000.0 860.2C1001.2 856.0 1001.5 880.5 1003.0 885.6C1004.5 890.7 1005.7 881.1 1007.5 885.6C1009.2 890.1 1010.1 905.6 1011.9 908.0C1013.7 910.4 1014.5 900.5 1016.4 897.5C1018.4 894.5 1020.1 885.9 1021.6 893.0C1023.1 900.2 1022.8 919.2 1023.9 933.4C1024.9 947.6 1025.4 959.8 1026.9 964.0C1028.4 968.2 1029.6 956.5 1031.4 954.3C1033.1 952.0 1034.3 957.0 1035.8 952.8C1037.3 948.6 1038.0 937.3 1038.8 933.4C1039.7 929.5 1039.0 935.2 1040.0 933.4C1041.0 931.6 1042.2 926.8 1043.7 924.4C1045.2 922.0 1046.0 921.4 1047.5 921.4C1049.0 921.4 1049.7 924.1 1051.2 924.4C1052.7 924.7 1053.6 918.1 1054.9 922.9C1056.3 927.7 1056.7 951.9 1057.9 948.3C1059.1 944.7 1059.7 914.3 1060.9 905.0C1062.1 895.7 1062.7 899.9 1063.9 902.0C1065.1 904.1 1065.4 914.0 1066.9 915.4C1068.4 916.9 1069.6 911.9 1071.4 909.5C1073.2 907.1 1074.4 907.5 1075.8 903.5C1077.3 899.5 1077.3 890.5 1078.5 889.3C1079.7 888.1 1080.6 896.5 1081.8 897.5C1083.1 898.6 1083.8 894.8 1084.8 894.5C1085.8 894.2 1085.8 888.3 1087.0 896.0C1088.2 903.8 1088.8 922.0 1090.8 933.4C1092.7 944.7 1093.8 944.6 1096.8 952.8C1099.7 961.0 1102.1 976.8 1105.7 974.4C1109.3 972.0 1112.1 949.6 1114.7 940.8C1117.2 932.0 1117.1 933.2 1118.4 930.4C1119.7 927.5 1120.0 925.2 1121.4 926.6C1122.7 928.1 1123.5 935.0 1125.1 937.8C1126.8 940.7 1127.8 941.0 1129.6 940.8C1131.4 940.7 1132.3 937.0 1134.1 937.1C1135.9 937.3 1136.8 939.6 1138.6 941.6C1140.4 943.5 1141.3 945.8 1143.0 946.8C1144.8 947.9 1145.7 946.2 1147.5 946.8C1149.3 947.4 1149.9 949.1 1152.0 949.8C1154.1 950.5 1155.6 949.6 1158.0 950.5C1160.4 951.4 1161.9 952.6 1164.0 954.3C1166.0 955.9 1166.8 955.3 1168.4 958.8C1170.1 962.2 1171.0 967.4 1172.2 971.5C1173.4 975.5 1173.2 980.6 1174.4 978.9C1175.6 977.3 1176.6 965.6 1178.1 963.2C1179.6 960.8 1180.4 965.0 1181.9 967.0C1183.4 968.9 1183.8 972.0 1185.6 972.9C1187.4 973.8 1188.9 970.7 1190.8 971.5C1192.8 972.2 1193.4 976.7 1195.3 976.7C1197.3 976.7 1198.8 970.9 1200.5 971.5C1202.3 972.0 1203.1 975.8 1204.3 979.7C1205.5 983.5 1205.6 988.4 1206.5 990.9C1207.4 993.4 1207.3 990.6 1208.8 992.2C1210.3 993.9 1212.0 993.4 1214.0 999.0C1215.9 1004.5 1217.0 1012.1 1218.5 1019.9C1220.0 1027.6 1220.1 1036.7 1221.5 1037.8C1222.8 1038.8 1222.9 1028.2 1225.2 1025.1C1227.4 1022.0 1229.7 1022.1 1232.7 1022.1C1235.6 1022.1 1237.6 1024.2 1240.1 1025.1C1242.7 1026.0 1243.7 1028.8 1245.3 1026.6C1247.0 1024.3 1247.0 1012.0 1248.3 1013.9C1249.7 1015.8 1250.9 1029.1 1252.1 1036.3C1253.3 1043.5 1253.3 1050.0 1254.3 1049.7C1255.4 1049.4 1255.7 1036.9 1257.3 1034.8C1258.9 1032.7 1260.4 1035.7 1262.5 1039.3C1264.6 1042.9 1265.7 1047.9 1267.7 1052.7C1269.8 1057.5 1271.0 1060.5 1273.0 1063.2C1274.9 1065.9 1276.0 1066.8 1277.5 1066.2C1278.9 1065.6 1279.4 1058.7 1280.4 1060.2C1281.5 1061.7 1281.5 1067.1 1282.7 1073.6C1283.9 1080.2 1285.1 1088.4 1286.4 1093.0C1287.8 1097.7 1287.3 1098.3 1289.4 1096.8C1291.5 1095.3 1293.9 1086.3 1296.9 1085.6C1299.9 1084.8 1301.6 1093.6 1304.3 1093.0C1307.0 1092.4 1308.6 1087.1 1310.3 1082.6C1312.0 1078.1 1311.3 1073.9 1313.0 1070.6C1314.7 1067.4 1316.6 1067.7 1319.0 1066.2C1321.4 1064.7 1322.2 1065.4 1324.9 1063.2C1327.6 1060.9 1329.6 1057.4 1332.4 1055.0C1335.2 1052.6 1337.2 1051.1 1339.1 1051.2C1341.1 1051.4 1341.0 1052.3 1342.1 1055.7C1343.2 1059.1 1343.6 1069.0 1344.6 1068.4C1345.7 1067.8 1345.8 1056.3 1347.3 1052.7C1348.9 1049.1 1350.5 1050.5 1352.6 1050.5C1354.7 1050.5 1356.0 1050.5 1357.8 1052.7C1359.6 1055.0 1360.2 1056.3 1361.5 1061.7C1362.9 1067.1 1363.3 1072.7 1364.5 1079.6C1365.7 1086.5 1365.9 1091.0 1367.5 1096.0C1369.1 1101.1 1370.8 1099.3 1372.7 1105.0C1374.7 1110.7 1375.4 1114.6 1377.2 1124.4C1379.0 1134.3 1380.3 1145.9 1381.7 1154.3C1383.1 1162.6 1383.2 1166.2 1384.2 1166.2C1385.3 1166.2 1385.6 1161.4 1386.9 1154.3C1388.2 1147.1 1389.2 1139.6 1390.6 1130.4C1392.1 1121.1 1392.9 1114.6 1394.4 1108.0C1395.9 1101.4 1396.5 1101.4 1398.1 1097.5C1399.8 1093.6 1400.9 1094.5 1402.6 1088.6C1404.2 1082.6 1405.0 1077.5 1406.3 1067.7C1407.7 1057.8 1408.3 1046.8 1409.3 1039.3C1410.4 1031.8 1410.5 1030.0 1411.6 1030.3C1412.6 1030.6 1413.5 1037.0 1414.5 1040.8C1415.6 1044.5 1415.6 1048.7 1416.8 1049.0C1418.0 1049.3 1418.7 1044.4 1420.5 1042.3C1422.3 1040.2 1423.6 1039.3 1425.7 1038.5C1427.8 1037.8 1428.7 1038.2 1431.0 1038.5C1433.2 1038.8 1434.3 1039.3 1436.9 1040.0C1439.6 1040.8 1442.2 1041.4 1444.4 1042.3C1446.6 1043.2 1446.8 1045.7 1448.1 1044.5C1449.5 1043.3 1449.9 1036.7 1451.1 1036.3C1452.3 1035.8 1452.5 1040.3 1454.1 1042.3C1455.8 1044.2 1456.8 1044.5 1459.3 1046.0C1461.9 1047.5 1463.8 1047.8 1466.8 1049.7C1469.8 1051.7 1472.2 1053.6 1474.3 1055.7C1476.4 1057.8 1476.2 1057.8 1477.3 1060.2C1478.3 1062.6 1478.3 1066.9 1479.5 1067.7C1480.7 1068.4 1481.6 1063.3 1483.2 1063.9C1484.9 1064.5 1485.6 1067.2 1487.7 1070.6C1489.8 1074.1 1491.3 1076.9 1493.7 1081.1C1496.1 1085.3 1498.4 1089.4 1499.7 1091.6C1500.9 1093.7 1499.2 1091.5 1500.0 1091.6C1500.8 1091.8 1502.0 1090.8 1503.5 1092.2C1505.0 1093.6 1505.7 1099.7 1507.6 1098.7C1509.5 1097.6 1510.4 1093.3 1512.9 1086.9C1515.4 1080.6 1517.5 1074.3 1519.9 1067.0C1522.4 1059.7 1523.7 1054.5 1525.2 1050.6C1526.8 1046.6 1526.3 1046.9 1527.6 1047.0C1528.9 1047.2 1530.2 1050.6 1531.7 1051.1C1533.2 1051.7 1533.9 1051.0 1535.2 1050.0C1536.5 1048.9 1537.0 1046.0 1538.1 1045.9C1539.3 1045.7 1539.3 1045.2 1541.1 1049.4C1542.8 1053.6 1544.8 1059.5 1546.9 1067.0C1549.0 1074.5 1550.0 1080.4 1551.6 1086.9C1553.3 1093.5 1553.7 1096.7 1555.1 1099.8C1556.6 1103.0 1557.3 1102.3 1558.7 1102.8C1560.1 1103.2 1560.8 1101.1 1562.2 1102.2C1563.6 1103.2 1564.1 1106.3 1565.7 1108.1C1567.3 1109.8 1568.5 1110.0 1570.4 1111.0C1572.3 1111.9 1573.2 1114.2 1575.1 1112.7C1577.0 1111.3 1578.1 1106.2 1579.8 1103.9C1581.4 1101.7 1581.2 1102.3 1583.3 1101.6C1585.4 1100.9 1588.0 1100.3 1590.3 1100.4C1592.7 1100.5 1593.3 1102.4 1595.0 1102.2C1596.8 1102.0 1597.5 1099.0 1599.1 1099.3C1600.8 1099.5 1601.0 1100.2 1603.3 1103.4C1605.5 1106.5 1607.5 1110.6 1610.3 1115.1C1613.1 1119.5 1615.0 1123.0 1617.3 1125.7C1619.7 1128.3 1620.1 1126.7 1622.0 1128.6C1623.9 1130.5 1625.0 1133.2 1626.7 1135.0C1628.5 1136.9 1628.7 1137.7 1630.8 1138.0C1632.9 1138.2 1634.1 1137.1 1637.3 1136.2C1640.4 1135.3 1643.6 1133.6 1646.7 1133.3C1649.7 1132.9 1649.5 1134.5 1652.5 1134.5C1655.6 1134.5 1659.1 1133.2 1661.9 1133.3C1664.7 1133.4 1664.3 1134.5 1666.6 1135.0C1669.0 1135.6 1670.8 1136.2 1673.6 1136.2C1676.5 1136.2 1677.9 1135.4 1680.7 1135.0C1683.5 1134.7 1685.4 1134.9 1687.7 1134.5C1690.1 1134.0 1690.5 1133.5 1692.4 1132.7C1694.3 1131.9 1695.2 1131.2 1697.1 1130.3C1699.0 1129.5 1700.0 1129.2 1701.8 1128.6C1703.6 1128.0 1705.1 1127.6 1705.9 1127.3"/>
<polygon fill="#FFFF33" points="186.7,928.0 191.9,943.9 208.6,943.9 195.1,953.7 200.2,969.6 186.7,959.8 173.2,969.6 178.3,953.7 164.8,943.9 181.5,943.9"/>
<polygon fill="#FFFF33" points="528.5,1000.0 533.8,1016.2 550.8,1016.2 537.0,1026.3 542.3,1042.5 528.5,1032.5 514.7,1042.5 520.0,1026.3 506.2,1016.2 523.2,1016.2"/>
<rect x="1282" y="331.5" width="58" height="29" rx="3.5" fill="#66FF66" stroke="#9CFF9C" stroke-width="1"/>
<rect x="1282" y="382.7" width="58" height="29" rx="3.5" fill="#1AAF54" stroke="#5CC885" stroke-width="1"/>
<rect x="1282" y="433.2" width="58" height="29" rx="3.5" fill="#16ABEF" stroke="#6CC8F5" stroke-width="1"/>
<text x="1731.7" y="1202.8" font-size="21.8" font-weight="bold" fill="#fff" textLength="12.8" lengthAdjust="spacingAndGlyphs" stroke="#fff" stroke-width="0.4">0</text>
<text x="1731.7" y="1138.3" font-size="21.8" font-weight="bold" fill="#fff" textLength="121.0" lengthAdjust="spacingAndGlyphs" stroke="#fff" stroke-width="0.4">10,000,000</text>
<text x="1731.7" y="1073.8" font-size="21.8" font-weight="bold" fill="#fff" textLength="121.0" lengthAdjust="spacingAndGlyphs" stroke="#fff" stroke-width="0.4">20,000,000</text>
<text x="1731.7" y="1009.3" font-size="21.8" font-weight="bold" fill="#fff" textLength="121.0" lengthAdjust="spacingAndGlyphs" stroke="#fff" stroke-width="0.4">30,000,000</text>
<text x="1731.7" y="944.8" font-size="21.8" font-weight="bold" fill="#fff" textLength="121.0" lengthAdjust="spacingAndGlyphs" stroke="#fff" stroke-width="0.4">40,000,000</text>
<text x="1731.7" y="880.3" font-size="21.8" font-weight="bold" fill="#fff" textLength="121.0" lengthAdjust="spacingAndGlyphs" stroke="#fff" stroke-width="0.4">50,000,000</text>
<text x="1731.7" y="815.8" font-size="21.8" font-weight="bold" fill="#fff" textLength="121.0" lengthAdjust="spacingAndGlyphs" stroke="#fff" stroke-width="0.4">60,000,000</text>
<text x="1731.7" y="751.3" font-size="21.8" font-weight="bold" fill="#fff" textLength="121.0" lengthAdjust="spacingAndGlyphs" stroke="#fff" stroke-width="0.4">70,000,000</text>
<text x="1731.7" y="686.8" font-size="21.8" font-weight="bold" fill="#fff" textLength="121.0" lengthAdjust="spacingAndGlyphs" stroke="#fff" stroke-width="0.4">80,000,000</text>
<text x="1731.7" y="622.3" font-size="21.8" font-weight="bold" fill="#fff" textLength="121.0" lengthAdjust="spacingAndGlyphs" stroke="#fff" stroke-width="0.4">90,000,000</text>
<text x="1731.7" y="557.8" font-size="21.8" font-weight="bold" fill="#fff" textLength="133.3" lengthAdjust="spacingAndGlyphs" stroke="#fff" stroke-width="0.4">100,000,000</text>
<text x="1731.7" y="493.3" font-size="21.8" font-weight="bold" fill="#fff" textLength="133.3" lengthAdjust="spacingAndGlyphs" stroke="#fff" stroke-width="0.4">110,000,000</text>
<text x="1731.7" y="428.8" font-size="21.8" font-weight="bold" fill="#fff" textLength="133.3" lengthAdjust="spacingAndGlyphs" stroke="#fff" stroke-width="0.4">120,000,000</text>
<text x="1731.7" y="364.3" font-size="21.8" font-weight="bold" fill="#fff" textLength="133.3" lengthAdjust="spacingAndGlyphs" stroke="#fff" stroke-width="0.4">130,000,000</text>
<text x="112.1" y="1202.5" font-size="20.1" font-weight="bold" fill="#575730" textLength="12.1" lengthAdjust="spacingAndGlyphs" >0</text>
<text x="38.0" y="1019.9" font-size="20.1" font-weight="bold" fill="#575730" textLength="86.2" lengthAdjust="spacingAndGlyphs" >500,000</text>
<text x="18.9" y="837.3" font-size="20.1" font-weight="bold" fill="#575730" textLength="105.3" lengthAdjust="spacingAndGlyphs" >1,000,000</text>
<text x="18.9" y="654.7" font-size="20.1" font-weight="bold" fill="#575730" textLength="105.3" lengthAdjust="spacingAndGlyphs" >1,500,000</text>
<text x="18.9" y="472.1" font-size="20.1" font-weight="bold" fill="#575730" textLength="105.3" lengthAdjust="spacingAndGlyphs" >2,000,000</text>
<g font-size="18" font-weight="bold" fill="#fff" stroke="#fff" stroke-width="0.5" transform="translate(0 1229)"><text lengthAdjust="spacingAndGlyphs" x="139.2" textLength="21.5">28</text><text lengthAdjust="spacingAndGlyphs" x="168.5" textLength="10.6">6</text><text lengthAdjust="spacingAndGlyphs" x="186.9" textLength="21.5">12</text><text lengthAdjust="spacingAndGlyphs" x="210.7" textLength="21.5">18</text><text lengthAdjust="spacingAndGlyphs" x="234.5" textLength="21.5">24</text><text lengthAdjust="spacingAndGlyphs" x="258.4" textLength="21.5">30</text><text lengthAdjust="spacingAndGlyphs" x="287.6" textLength="10.6">5</text><text lengthAdjust="spacingAndGlyphs" x="306.0" textLength="21.5">11</text><text lengthAdjust="spacingAndGlyphs" x="329.8" textLength="21.5">17</text><text lengthAdjust="spacingAndGlyphs" x="353.7" textLength="21.5">23</text><text lengthAdjust="spacingAndGlyphs" x="377.5" textLength="21.5">29</text><text lengthAdjust="spacingAndGlyphs" x="406.8" textLength="10.6">5</text><text lengthAdjust="spacingAndGlyphs" x="425.1" textLength="21.5">11</text><text lengthAdjust="spacingAndGlyphs" x="448.9" textLength="21.5">17</text><text lengthAdjust="spacingAndGlyphs" x="472.8" textLength="21.5">23</text><text lengthAdjust="spacingAndGlyphs" x="496.6" textLength="21.5">29</text><text lengthAdjust="spacingAndGlyphs" x="525.9" textLength="10.6">4</text><text lengthAdjust="spacingAndGlyphs" x="544.2" textLength="21.5">10</text><text lengthAdjust="spacingAndGlyphs" x="568.1" textLength="21.5">16</text><text lengthAdjust="spacingAndGlyphs" x="591.9" textLength="21.5">22</text><text lengthAdjust="spacingAndGlyphs" x="615.7" textLength="21.5">28</text><text lengthAdjust="spacingAndGlyphs" x="645.0" textLength="10.6">4</text><text lengthAdjust="spacingAndGlyphs" x="663.4" textLength="21.5">10</text><text lengthAdjust="spacingAndGlyphs" x="687.2" textLength="21.5">16</text><text lengthAdjust="spacingAndGlyphs" x="711.0" textLength="21.5">22</text><text lengthAdjust="spacingAndGlyphs" x="734.8" textLength="21.5">28</text><text lengthAdjust="spacingAndGlyphs" x="764.1" textLength="10.6">3</text><text lengthAdjust="spacingAndGlyphs" x="787.9" textLength="10.6">9</text><text lengthAdjust="spacingAndGlyphs" x="806.3" textLength="21.5">15</text><text lengthAdjust="spacingAndGlyphs" x="830.1" textLength="21.5">21</text><text lengthAdjust="spacingAndGlyphs" x="853.9" textLength="21.5">27</text><text lengthAdjust="spacingAndGlyphs" x="883.2" textLength="10.6">2</text><text lengthAdjust="spacingAndGlyphs" x="907.0" textLength="10.6">8</text><text lengthAdjust="spacingAndGlyphs" x="925.4" textLength="21.5">14</text><text lengthAdjust="spacingAndGlyphs" x="949.2" textLength="21.5">20</text><text lengthAdjust="spacingAndGlyphs" x="973.1" textLength="21.5">26</text><text lengthAdjust="spacingAndGlyphs" x="1002.3" textLength="10.6">2</text><text lengthAdjust="spacingAndGlyphs" x="1026.2" textLength="10.6">8</text><text lengthAdjust="spacingAndGlyphs" x="1044.5" textLength="21.5">14</text><text lengthAdjust="spacingAndGlyphs" x="1068.3" textLength="21.5">20</text><text lengthAdjust="spacingAndGlyphs" x="1092.2" textLength="21.5">26</text><text lengthAdjust="spacingAndGlyphs" x="1121.4" textLength="10.6">1</text><text lengthAdjust="spacingAndGlyphs" x="1145.3" textLength="10.6">7</text><text lengthAdjust="spacingAndGlyphs" x="1163.6" textLength="21.5">13</text><text lengthAdjust="spacingAndGlyphs" x="1187.5" textLength="21.5">19</text><text lengthAdjust="spacingAndGlyphs" x="1211.3" textLength="21.5">25</text><text lengthAdjust="spacingAndGlyphs" x="1240.6" textLength="10.6">1</text><text lengthAdjust="spacingAndGlyphs" x="1264.4" textLength="10.6">7</text><text lengthAdjust="spacingAndGlyphs" x="1282.8" textLength="21.5">13</text><text lengthAdjust="spacingAndGlyphs" x="1306.6" textLength="21.5">19</text><text lengthAdjust="spacingAndGlyphs" x="1330.4" textLength="21.5">25</text><text lengthAdjust="spacingAndGlyphs" x="1354.2" textLength="21.5">31</text><text lengthAdjust="spacingAndGlyphs" x="1383.5" textLength="10.6">6</text><text lengthAdjust="spacingAndGlyphs" x="1401.9" textLength="21.5">12</text><text lengthAdjust="spacingAndGlyphs" x="1425.7" textLength="21.5">18</text><text lengthAdjust="spacingAndGlyphs" x="1449.5" textLength="21.5">24</text><text lengthAdjust="spacingAndGlyphs" x="1473.3" textLength="21.5">30</text><text lengthAdjust="spacingAndGlyphs" x="1502.6" textLength="10.6">5</text><text lengthAdjust="spacingAndGlyphs" x="1521.0" textLength="21.5">11</text><text lengthAdjust="spacingAndGlyphs" x="1544.8" textLength="21.5">17</text><text lengthAdjust="spacingAndGlyphs" x="1568.6" textLength="21.5">23</text><text lengthAdjust="spacingAndGlyphs" x="1597.9" textLength="10.6">1</text><text lengthAdjust="spacingAndGlyphs" x="1621.7" textLength="10.6">7</text><text lengthAdjust="spacingAndGlyphs" x="1640.1" textLength="21.5">13</text><text lengthAdjust="spacingAndGlyphs" x="1663.9" textLength="21.5">19</text><text lengthAdjust="spacingAndGlyphs" x="1687.7" textLength="21.5">25</text></g>
<path d="M128 1241.4H1374.0" stroke="#fff" stroke-width="3.4"/>
<path d="M115 1241.4L130 1234.1000000000001V1248.7Z" fill="#fff"/>
<path d="M1374.0 1241.4H1698" stroke="#FDB827" stroke-width="3.4"/>
<path d="M1713 1241.4L1696.7 1234.0V1248.8000000000002Z" fill="#FDB827"/>
<circle cx="151" cy="1241.4" r="7.3" fill="#fff"/><circle cx="164.8" cy="1241.4" r="7.3" fill="#fff"/>
<circle cx="272.6" cy="1241.4" r="7.3" fill="#fff"/><circle cx="286.9" cy="1241.4" r="7.3" fill="#fff"/>
<circle cx="392.2" cy="1241.4" r="7.3" fill="#fff"/><circle cx="406" cy="1241.4" r="7.3" fill="#fff"/>
<circle cx="513" cy="1241.4" r="7.3" fill="#fff"/><circle cx="526.3" cy="1241.4" r="7.3" fill="#fff"/>
<circle cx="632.9" cy="1241.4" r="7.3" fill="#fff"/><circle cx="647.2" cy="1241.4" r="7.3" fill="#fff"/>
<circle cx="750.2" cy="1241.4" r="7.3" fill="#fff"/><circle cx="764.5" cy="1241.4" r="7.3" fill="#fff"/>
<circle cx="869.8" cy="1241.4" r="7.3" fill="#fff"/><circle cx="883.6" cy="1241.4" r="7.3" fill="#fff"/>
<circle cx="990.1" cy="1241.4" r="7.3" fill="#fff"/><circle cx="1003.9" cy="1241.4" r="7.3" fill="#fff"/>
<circle cx="1110.5" cy="1241.4" r="7.3" fill="#fff"/><circle cx="1125.5" cy="1241.4" r="7.3" fill="#fff"/>
<circle cx="1230.8" cy="1241.4" r="7.3" fill="#fff"/><circle cx="1245.3" cy="1241.4" r="7.3" fill="#fff"/>
<circle cx="1366.7" cy="1241.4" r="7.3" fill="#fff"/><circle cx="1381" cy="1241.4" r="7.3" fill="#FDB827"/>
<circle cx="1488.4" cy="1241.4" r="7.3" fill="#FDB827"/><circle cx="1502.6" cy="1241.4" r="7.3" fill="#FDB827"/>
<circle cx="1589.7" cy="1241.4" r="7.3" fill="#FDB827"/><circle cx="1603.1" cy="1241.4" r="7.3" fill="#FDB827"/>
<text x="78.5" y="293.2" font-size="35" font-weight="bold" fill="#FFFF33" textLength="490" lengthAdjust="spacingAndGlyphs">จำนวนการฉีดวัคซีนรายวัน (โดส)</text>
<text x="1286.8" y="297.2" font-size="35" font-weight="bold" fill="#fff" textLength="469" lengthAdjust="spacingAndGlyphs">จำนวนการฉีดวัคซีนสะสม (โดส)</text>
<text x="208.8" y="387.1" font-size="52" font-weight="bold" fill="#fff" textLength="408" lengthAdjust="spacingAndGlyphs">ประเทศไทยฉีดวัคซีนแล้ว</text>
<text x="639" y="387.8" font-size="59.5" font-weight="bold" fill="#FFFF33" textLength="353.4" lengthAdjust="spacingAndGlyphs" >128,760,443</text>
<text x="1035.5" y="386.2" font-size="52" font-weight="bold" fill="#fff" textLength="59" lengthAdjust="spacingAndGlyphs">โดส</text>
<rect x="250.6" y="440.5" width="711.4" height="101.2" rx="50.6" fill="#fff"/>
<text x="301.6" y="509.9" font-size="57" font-weight="bold" fill="#000" textLength="220" lengthAdjust="spacingAndGlyphs">ฉีดเพิ่มขึ้น</text>
<text x="546.4" y="510.7" font-size="61.5" font-weight="bold" fill="#FF0000" textLength="261.6" lengthAdjust="spacingAndGlyphs" >+110,982</text>
<text x="830.4" y="509.9" font-size="57" font-weight="bold" fill="#000" textLength="78.7" lengthAdjust="spacingAndGlyphs">โดส</text>
<rect x="200.5" y="604.4" width="72.7" height="6" rx="3" fill="#FF0000"/>
<text x="296.4" y="620.1" font-size="48" font-weight="bold" fill="#fff" textLength="387" lengthAdjust="spacingAndGlyphs">อัตราการฉีดวัคซีนเฉลี่ย</text>
<text x="704.6" y="620.9" font-size="47.5" font-weight="bold" fill="#FFFF33" textLength="22.0" lengthAdjust="spacingAndGlyphs" >7</text>
<text x="750.1" y="620.1" font-size="48" font-weight="bold" fill="#fff" textLength="217" lengthAdjust="spacingAndGlyphs">วันย้อนหลัง :</text>
<text x="296.4" y="679.2" font-size="48" font-weight="bold" fill="#fff" textLength="86.4" lengthAdjust="spacingAndGlyphs">ล่าสุด</text>
<text x="406" y="680" font-size="51.0" font-weight="bold" fill="#FFFF33" textLength="190.5" lengthAdjust="spacingAndGlyphs" >196,666</text>
<text x="618.2" y="679.2" font-size="48" font-weight="bold" fill="#fff" textLength="145.5" lengthAdjust="spacingAndGlyphs">โดส/วัน</text>
<text x="218.8" y="966.9" font-size="37" font-weight="bold" fill="#FFFF33" textLength="325.4" lengthAdjust="spacingAndGlyphs">7 มิถุนา วาระแห่งชาติ</text>
<text x="1357.7" y="356.3" font-size="40" font-weight="bold" fill="#fff" textLength="201.6" lengthAdjust="spacingAndGlyphs">เข็ม 3 ขึ้นไป</text>
<text x="1357.7" y="406.3" font-size="40" font-weight="bold" fill="#fff" textLength="99.6" lengthAdjust="spacingAndGlyphs">เข็ม 2</text>
<text x="1357.7" y="457.3" font-size="40" font-weight="bold" fill="#fff" textLength="96.6" lengthAdjust="spacingAndGlyphs">เข็ม 1</text>
<text x="70.1" y="1268.9" font-size="29" font-weight="bold" fill="#fff" textLength="75.8" lengthAdjust="spacingAndGlyphs">ก.พ.64</text>
<text x="183.4" y="1268.9" font-size="29" font-weight="bold" fill="#fff" textLength="72.8" lengthAdjust="spacingAndGlyphs">มี.ค.64</text>
<text x="303.3" y="1268.9" font-size="29" font-weight="bold" fill="#fff" textLength="80.7" lengthAdjust="spacingAndGlyphs">เม.ย.64</text>
<text x="421.6" y="1268.9" font-size="29" font-weight="bold" fill="#fff" textLength="75.2" lengthAdjust="spacingAndGlyphs">พ.ค.64</text>
<text x="543.7" y="1268.9" font-size="29" font-weight="bold" fill="#fff" textLength="73" lengthAdjust="spacingAndGlyphs">มิ.ย.64</text>
<text x="663" y="1268.9" font-size="29" font-weight="bold" fill="#fff" textLength="73.3" lengthAdjust="spacingAndGlyphs">ก.ค.64</text>
<text x="782.6" y="1268.9" font-size="29" font-weight="bold" fill="#fff" textLength="72.8" lengthAdjust="spacingAndGlyphs">ส.ค.64</text>
<text x="901.6" y="1268.9" font-size="29" font-weight="bold" fill="#fff" textLength="72.9" lengthAdjust="spacingAndGlyphs">ก.ย.64</text>
<text x="1021.3" y="1268.9" font-size="29" font-weight="bold" fill="#fff" textLength="73.5" lengthAdjust="spacingAndGlyphs">ต.ค.64</text>
<text x="1142.4" y="1268.9" font-size="29" font-weight="bold" fill="#fff" textLength="74" lengthAdjust="spacingAndGlyphs">พ.ย.64</text>
<text x="1264" y="1268.9" font-size="29" font-weight="bold" fill="#fff" textLength="71.5" lengthAdjust="spacingAndGlyphs">ธ.ค.64</text>
<text x="1392" y="1268.9" font-size="29" font-weight="bold" fill="#FDB827" textLength="72.9" lengthAdjust="spacingAndGlyphs">ม.ค.65</text>
<text x="1502.6" y="1268.9" font-size="29" font-weight="bold" fill="#FDB827" textLength="75.1" lengthAdjust="spacingAndGlyphs">ก.พ.65</text>
<text x="1606.6" y="1268.9" font-size="29" font-weight="bold" fill="#FDB827" textLength="72.8" lengthAdjust="spacingAndGlyphs">มี.ค.65</text>
<text x="17" y="1322.8" font-size="28" fill="#F0D0F0" textLength="395" lengthAdjust="spacingAndGlyphs">ที่มา กรมควบคุมโรค 28 มีนาคม 2565</text>
<text x="1538.5" y="1321.3" font-size="36" font-weight="bold" fill="#fff" textLength="307.3" lengthAdjust="spacingAndGlyphs">หน้า 3 ของ 13 หน้า</text>
<text x="35.8" y="1387.2" font-size="34" font-weight="bold" fill="#000" textLength="831.4" lengthAdjust="spacingAndGlyphs">กระทรวงการอุดมศึกษา วิทยาศาสตร์ วิจัยและนวัตกรรม</text>
<text x="1785.8" y="1384.8" font-size="35" font-weight="bold" fill="#000" textLength="54.2" lengthAdjust="spacingAndGlyphs">อว.</text>
</svg>
<div class="t"><span style="left:372px;top:19px;font-size:84px;width:632px">สรุปข้อมูลการฉีด</span><span style="left:375px;top:130px;font-size:82px;width:412px">วัคซีนโควิด</span><span style="left:793px;top:130px;font-size:82px;width:22px">-</span><span style="left:825px;top:130px;font-size:82px;width:104px">19</span><span style="left:974px;top:130px;font-size:82px;width:280px">ของไทย</span><span style="left:380px;top:215px;font-size:40px;width:406px">ณ วันที่ 28 มีนาคม 2565</span><span style="left:1650px;top:23px;font-size:9px;width:150px">กระทรวงการอุดมศึกษา วิทยาศาสตร์ วิจัยและนวัตกรรม</span><span style="left:1628px;top:203px;font-size:18px;width:189px">กระทรวงการอุดมศึกษา</span><span style="left:1588px;top:225px;font-size:18px;width:266px">วิทยาศาสตร์ วิจัยและนวัตกรรม</span><span style="left:78px;top:265px;font-size:36px;width:491px">จำนวนการฉีดวัคซีนรายวัน (โดส)</span><span style="left:1286px;top:269px;font-size:36px;width:471px">จำนวนการฉีดวัคซีนสะสม (โดส)</span><span style="left:208px;top:345px;font-size:54px;width:410px">ประเทศไทยฉีดวัคซีนแล้ว</span><span style="left:1035px;top:344px;font-size:54px;width:61px">โดส</span><span style="left:301px;top:463px;font-size:59px;width:221px">ฉีดเพิ่มขึ้น</span><span style="left:830px;top:463px;font-size:59px;width:80px">โดส</span><span style="left:296px;top:581px;font-size:50px;width:389px">อัตราการฉีดวัคซีนเฉลี่ย</span><span style="left:749px;top:581px;font-size:50px;width:219px">วันย้อนหลัง :</span><span style="left:296px;top:640px;font-size:50px;width:88px">ล่าสุด</span><span style="left:618px;top:640px;font-size:50px;width:147px">โดส/วัน</span><span style="left:218px;top:937px;font-size:38px;width:327px">7 มิถุนา วาระแห่งชาติ</span><span style="left:1357px;top:324px;font-size:41px;width:203px">เข็ม 3 ขึ้นไป</span><span style="left:1357px;top:374px;font-size:41px;width:101px">เข็ม 2</span><span style="left:1357px;top:425px;font-size:41px;width:98px">เข็ม 1</span><span style="left:70px;top:1245px;font-size:30px;width:77px">ก.พ.64</span><span style="left:183px;top:1245px;font-size:30px;width:74px">มี.ค.64</span><span style="left:303px;top:1245px;font-size:30px;width:82px">เม.ย.64</span><span style="left:421px;top:1245px;font-size:30px;width:76px">พ.ค.64</span><span style="left:543px;top:1245px;font-size:30px;width:74px">มิ.ย.64</span><span style="left:662px;top:1245px;font-size:30px;width:74px">ก.ค.64</span><span style="left:782px;top:1245px;font-size:30px;width:74px">ส.ค.64</span><span style="left:901px;top:1245px;font-size:30px;width:74px">ก.ย.64</span><span style="left:1021px;top:1245px;font-size:30px;width:75px">ต.ค.64</span><span style="left:1142px;top:1245px;font-size:30px;width:75px">พ.ย.64</span><span style="left:1263px;top:1245px;font-size:30px;width:73px">ธ.ค.64</span><span style="left:1391px;top:1245px;font-size:30px;width:74px">ม.ค.65</span><span style="left:1502px;top:1245px;font-size:30px;width:76px">ก.พ.65</span><span style="left:1606px;top:1245px;font-size:30px;width:74px">มี.ค.65</span><span style="left:17px;top:1300px;font-size:29px;width:395px">ที่มา กรมควบคุมโรค 28 มีนาคม 2565</span><span style="left:1538px;top:1293px;font-size:37px;width:309px">หน้า 3 ของ 13 หน้า</span><span style="left:35px;top:1360px;font-size:35px;width:833px">กระทรวงการอุดมศึกษา วิทยาศาสตร์ วิจัยและนวัตกรรม</span><span style="left:1785px;top:1357px;font-size:36px;width:56px">อว.</span></div>
</body></html>
